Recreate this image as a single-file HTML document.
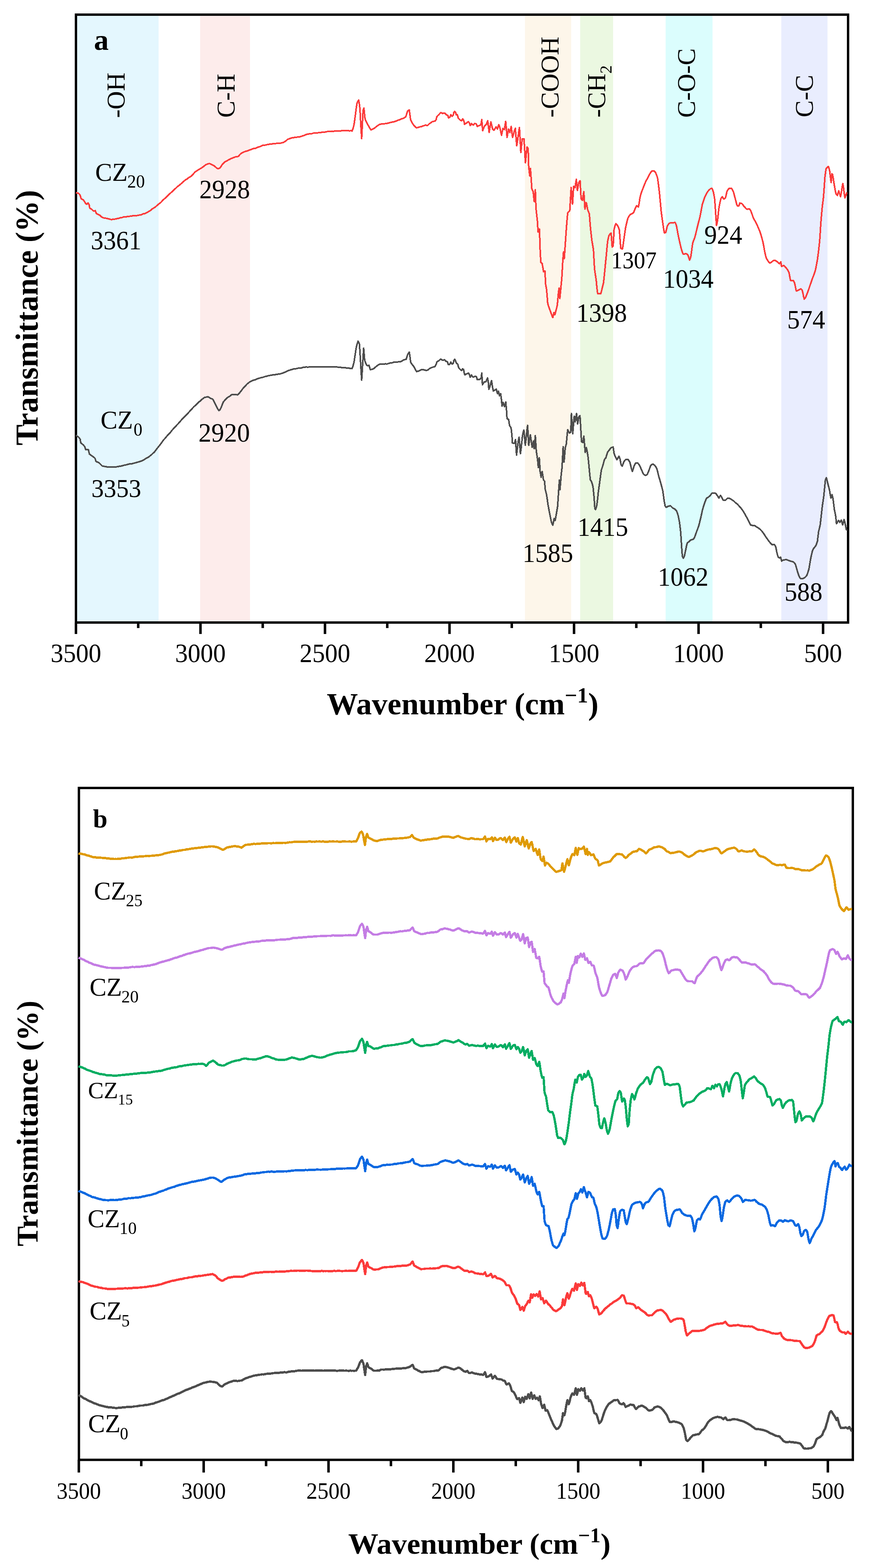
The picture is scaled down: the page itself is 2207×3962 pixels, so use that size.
<!DOCTYPE html>
<html lang="en">
<head>
<meta charset="utf-8">
<title>FTIR spectra</title>
<style>
html,body{margin:0;padding:0;background:#fff}
body{width:2207px;height:3962px;overflow:hidden}
svg{display:block}
text{font-family:"Liberation Serif","Times New Roman",serif;fill:#000}
</style>
</head>
<body>
<svg width="2207" height="3962" viewBox="0 0 2207 3962">
<rect width="2207" height="3962" fill="#fff"/>
<rect x="192" y="37" width="208.9" height="1536" fill="#e4f7fe"/>
<rect x="506" y="37" width="126" height="1536" fill="#fdeceb"/>
<rect x="1327.2" y="37" width="116.8" height="1536" fill="#fdf6ea"/>
<rect x="1466.7" y="37" width="83.3" height="1536" fill="#ebf8e1"/>
<rect x="1682.8" y="37" width="118.5" height="1536" fill="#dbfdfd"/>
<rect x="1975.2" y="37" width="116.8" height="1536" fill="#e9edfe"/>
<rect x="192" y="37" width="1952" height="1536" fill="none" stroke="#000" stroke-width="6"/>
<path d="M192,1573V1602M349.4,1573V1587M506.8,1573V1602M664.2,1573V1587M821.6,1573V1602M979,1573V1587M1136.4,1573V1602M1293.8,1573V1587M1451.2,1573V1602M1608.6,1573V1587M1766,1573V1602M1923.4,1573V1587M2080.8,1573V1602" stroke="#000" stroke-width="6.3" fill="none"/>
<path d="M191.7,486.9L193.9,487.4L196.2,487.8L198.4,488.3L200.5,490.4L202.6,493.4L205,501.8L207,503.2L209,504.4L211,505.5L213.5,509.3L216,513.2L217.7,515L219.3,516.3L220.9,514.5L222.6,512.9L225.2,516.9L226.8,525.2L228.5,526.8L230.3,527.9L232,528.9L234,531L236,533.1L238.5,532.9L241,532.4L243.5,539.5L245.6,540.6L247.7,541.7L249.8,542.6L251.9,543.6L253.9,545.4L255.8,547.3L257.8,548.7L259.9,549.5L262,550.5L263.9,551L265.9,551.2L267.8,551.5L269.7,551.9L271.7,552.4L273.6,552.7L275.6,553.1L277.6,554L279.7,554.5L281.7,554.6L283.7,554.5L285.6,554.3L287.5,553.8L289.4,553.5L291.4,553.5L293.3,553.1L295.2,552.6L297.1,552.2L299,551.8L300.9,551.5L302.8,550.7L304.7,550L306.6,549.7L308.5,549.6L310.4,549.1L312.4,548.3L314.4,547.7L316.4,547.8L318.4,547.9L320.4,547.5L322.5,547.3L324.5,547L326.5,546.6L328.5,546.5L330.5,546.4L332.6,545.9L334.7,545.4L336.8,545.2L338.9,545.2L340.9,545.2L343,545.1L345.1,544.9L347.2,544.5L349.3,544.1L351.4,543.7L353.5,543.2L355.6,542.9L357.7,542.4L359.8,541.4L361.9,540.4L364,540.1L365.9,539.9L367.8,539L369.7,537.7L371.6,536.9L373.5,536L375.4,534.8L377.3,533.7L379.2,532.6L381.2,531.3L383.1,529.4L385.1,527.7L387.1,526.5L389,525.5L390.8,524.3L392.7,523L394.5,521.5L396.3,519.8L398.2,518.2L400,516.7L401.9,515.1L403.9,513.6L405.8,512.1L407.7,510.4L409.6,508.3L411.6,506L413.5,504.1L415.4,502.6L417.4,500.9L419.3,498.9L421.2,497L423.2,495L425.1,493.2L427,491.6L428.9,489.7L430.9,488L432.8,486.3L434.7,484.6L436.7,482.9L438.6,481L440.5,478.8L442.5,477.2L444.4,475.7L446.3,473.7L448.2,471.7L450.2,470.3L452.3,468.8L454.4,467.1L456.4,465.4L458.5,463.7L460.6,461.6L462.7,459.5L464.8,457.9L466.8,456.2L468.9,454.5L470.9,453.4L473,452.3L475,450.5L477.1,448.9L479.1,447.8L481.2,446.7L483.2,445.2L485.3,443.5L487.3,441.4L489.3,439L491.3,436.5L493.3,434.5L495.3,433L497.4,431.7L499.5,430.3L501.6,429L503.7,427.8L505.8,426.6L507.9,425.4L510,424L512.1,422.5L514.1,421.1L516.2,419.5L518.3,417.6L520.4,416.2L522.6,415.3L524.8,414.3L527,413.6L529.2,413.3L531.4,413.9L533.6,414.8L535.8,416L538,417L540.2,418.3L542.4,419.8L544.6,421.8L546.8,423.8L548.4,424.9L550.1,425.9L551.8,426.5L553.7,425.6L555.5,424.8L557.4,422.6L559.3,419.8L561.2,416.8L563.1,414.1L565,412.4L566.8,410.7L568.7,409.1L570.6,407.9L572.6,407.1L574.6,406L576.6,404.6L578.6,403.6L580.6,402.8L582.5,401.6L584.4,400.5L586.3,399.8L588.2,399.2L590,398.4L591.9,397.6L593.8,396.9L595.7,396.3L597.6,396L599.4,395.8L601.3,395.5L603.2,394.8L604.9,392.6L606.6,390.3L608.2,388.7L610.2,387.4L612.2,386L614.2,385L616.3,384.1L618.3,383.4L620.1,382.7L622,382L623.9,381.6L625.8,381.3L627.7,380.5L629.6,379.5L631.4,378.7L633.3,378.4L635.3,377.7L637.2,376.8L639.2,375.9L641.1,375.2L643.1,375L645,374.9L647,374.3L648.9,373.2L650.9,372.4L653,371.7L655.1,371L657.2,370.4L659.2,369.7L661.3,368.7L663.4,367.5L665.5,366.8L667.6,366.7L669.7,366.7L671.8,366.3L673.9,365.7L676,365.3L678.1,365L680.1,364.6L682.2,364.1L684.3,363.6L686.4,363.5L688.5,363.5L690.5,363.4L692.4,363.1L694.4,363.1L696.3,362.9L698.3,362.4L700.2,362.1L702.2,362.3L704.1,362.3L706.1,362.1L708,361.8L709.8,361.5L711.7,361.1L713.6,360.6L715.5,360.1L717.4,359.5L719.6,358L721.8,356.6L723.9,355L726.1,353L728,351.9L729.9,351.2L731.8,350.5L733.7,349.7L735.8,349L737.8,348.4L739.9,348.1L742,347.9L744.1,347.4L746.2,347L748.2,347L750.2,346.7L752.1,346.2L754.1,346L756.1,346.1L758,345.6L760,345L762,344.5L764,343.7L766,342.9L768,342.5L770,341.9L772,340.8L774,339.9L776,339.4L778,339.2L780,338.6L782,338.1L784,337.9L786,337.9L788,337.7L790,337.2L792,336.5L794,336.1L796,336L798,335.8L800,335.5L802,335.7L804,335.5L806,335L808,335L810,335.1L812,334.7L814,333.9L816,333.6L818,333.7L820,333.8L822,333.7L824,333.1L826,332.6L828,332.4L830,332.1L831.9,331.9L833.9,332L835.8,332L837.8,331.8L839.7,331.5L841.7,331.6L843.6,331.7L845.6,331.3L847.5,331.1L849.4,331.4L851.4,331.5L853.3,331.3L855.3,331L857.2,330.9L859.2,330.9L861.1,330.8L863.1,330.4L865,330.3L867,330.3L869.1,330.5L871.1,330.4L873.2,330.3L875.2,330.2L877.3,330.1L879.3,330.1L881.4,330.4L883.4,330.6L885.5,330.5L887.5,330.1L890,331.5L892.5,324.8L895,315.1L896.9,302L898.9,287L900.8,272.1L902.7,260.2L904.7,255.9L906.7,252.9L908.4,262.2L910,275.2L912.1,315.2L914.3,350.5L916,316.5L917.8,279.9L920,273L922.8,300.3L924.6,304.9L926.4,308.3L928.2,311.5L930,315.1L932,318.9L934,322.3L936,325.8L938,328.2L940,327.3L942,326.3L944,325.2L946,324.2L948,322.8L950,321.1L952,319.5L954,318.1L956,316.8L958,315.4L960,314.2L962,313.9L964.1,313.4L966.1,313.1L968.2,313.3L970.2,313.2L972.3,312.7L974.4,312.3L976.4,312.1L978.5,311.7L980.5,311.3L982.4,310.8L984.4,310.3L986.3,309.6L988.2,309.2L990.2,308.9L992.1,308.4L994,308L995.9,307.7L997.9,307.1L999.8,306.3L1001.7,305.8L1003.7,304.9L1005.6,303.9L1007.6,303.3L1009.6,302.8L1011.6,302L1013.6,301.1L1015.6,300.2L1017.6,299.7L1019.6,299L1021.6,297.9L1023.6,296.7L1025.6,295.4L1027.3,290.7L1029,284.8L1030.7,280.2L1032.7,279L1034.7,278L1036.3,289.8L1038,302.9L1039.9,306.7L1041.8,310.1L1043.6,313L1045.5,315.8L1047.4,317.9L1049.2,319.7L1051.1,321.6L1053,323.1L1054.9,322.6L1056.8,321.9L1058.8,321.5L1060.7,320.9L1062.6,320.3L1064.5,320L1066.4,319.5L1068.3,318.7L1070.2,318L1072.2,317.5L1074.1,316.7L1076,316.1L1078,316.7L1080,317.3L1082.1,316L1084.2,313.8L1086.3,312L1088.4,310.8L1090.5,309L1092.5,307.6L1094.4,307.2L1096.2,306.6L1098,306.3L1099.9,306.1L1101.4,304.1L1103,301.2L1104,295.4L1105.8,293.3L1107.5,291.5L1109.3,289.9L1111,288.1L1112.8,286L1114.5,284.4L1116.6,285.3L1118.7,286.6L1120.4,286.4L1122.2,285.9L1123.9,285.6L1125.6,287.2L1127.4,289L1129.1,290.4L1130.7,290.9L1132.3,291.6L1133.9,297.9L1135.7,297.2L1137.5,296L1139.6,290L1141.2,291.6L1142.7,293.7L1144.3,292.9L1145.9,291.2L1147.3,283.9L1149.6,281.4L1152.1,284.7L1153.2,289.8L1154.7,289.9L1156.3,290L1158.4,298.2L1160.5,300.5L1162.6,302.6L1164.7,304.1L1166.8,305.2L1168.3,302.9L1169.9,300.5L1171.5,302.8L1173,306.3L1174.5,314.4L1177.2,312.1L1178.8,311.4L1180.4,310.3L1181.9,308.8L1183.5,307.5L1185.1,308.6L1186.6,310.7L1188.7,317.3L1190.3,314.8L1191.9,312.1L1194.6,315.3L1197.1,315.6L1198.6,313.6L1200.2,311.9L1202.3,312.6L1204.4,313.6L1206.5,319.6L1208.1,318.7L1209.6,318L1211.7,317.3L1213.8,316.6L1215.9,315.4L1218,302.2L1220.2,330.1L1222.3,325.1L1224.4,319.2L1226.1,317.4L1227.9,315.9L1229.6,314L1231.3,309.3L1233,305.1L1234.8,319.8L1236.6,334.6L1238.8,321.4L1241,308.3L1243.2,316.7L1245.3,325.7L1247,327.6L1248.8,329.1L1250.5,326.8L1252.3,323.4L1254,320.7L1255.8,323.2L1257.5,325.8L1259.2,320.5L1261,315.2L1262.8,319.5L1264.5,325.8L1266.2,334.8L1268,341.9L1269.7,333.2L1271.4,324.5L1273.2,325.9L1275,327.5L1276.7,317L1278.4,306.9L1280.2,327.4L1281.9,347.3L1283.7,336.4L1285.4,326.2L1287.2,330.8L1288.9,334.8L1290.6,326.8L1292.3,319.4L1294,333.5L1295.8,347.1L1297.5,341.4L1299.3,334.9L1301,329.1L1302.8,324.3L1304.5,346.1L1306.3,368.1L1308,358.2L1309.8,345.1L1311.5,332.2L1313.2,322.4L1315,354L1316.7,385.4L1318.5,368.2L1320.2,351L1322.5,350.8L1324.7,350.6L1326.5,381.2L1328.2,411.5L1330.3,391.4L1332.4,371.5L1335.2,375.1L1336.6,422L1339.4,444.6L1341,425.5L1342.8,450.8L1344.6,477.8L1346.3,481.5L1348,484.9L1350.5,509.1L1353.3,479.4L1355,526.5L1356.8,542.9L1358.5,558.1L1360.3,586.1L1362,582.4L1363.8,578.6L1365.5,630.9L1367.2,662.6L1369,664.5L1370.7,666.1L1372.5,676.6L1374.2,686.6L1376,685.9L1377.7,685.1L1379.4,718.2L1381.9,732.1L1384.7,766.8L1386.4,772.8L1388.2,777.4L1389.9,782.3L1392.2,788.7L1394.4,794.7L1396,799.1L1397.6,802.4L1400.3,789.7L1402.8,795.1L1405.6,784.3L1407.3,777.9L1409,770.4L1411.8,738.6L1413.6,728.1L1415.3,754.5L1417.8,728.7L1420.2,704.3L1423,655.6L1424.7,636.3L1426.5,653.7L1429.3,613.7L1431.7,578.7L1433.5,556L1435.2,538.1L1436.9,535.9L1438.7,534.6L1440.4,532.2L1442.2,502.6L1443.9,473.9L1445.7,494.5L1447.4,515.6L1450.2,470.9L1452,472.6L1453.7,474.1L1455.3,463.7L1457,453.3L1459.6,481.3L1461.3,472.2L1463,462.1L1464.8,459L1466.5,456.7L1469,502L1470.8,504.5L1472.5,505.9L1474.2,495L1476,484.4L1478.7,528.2L1480.5,520.4L1482.2,512.3L1484,520.3L1485.7,530L1487.8,535.2L1489.9,540.7L1492.7,575.6L1494.5,591.8L1496.2,606.9L1498.2,618.7L1500.3,631.2L1503,679.7L1505.2,694.4L1507.3,708.1L1509,726.8L1510.8,741.6L1512.8,741.5L1514.8,741.8L1516.8,742L1518.8,742.1L1520.5,736.2L1522.3,728.5L1524,721.8L1525.8,714.5L1527.5,698.1L1529.3,679.9L1531,662.6L1532.8,644.9L1534.5,626.3L1536.2,609.7L1538,601.2L1539.7,594.7L1541.5,592.5L1543.2,590.3L1545,589L1547.7,624.2L1550.2,621L1552.6,578.8L1554.8,570.5L1557,565.4L1558.8,567L1560.6,569.2L1562.4,571.8L1564.2,576.3L1565.9,582.1L1567.6,605.7L1569.3,627.5L1571.4,628.7L1573.5,629.4L1575.2,619.4L1577,606.9L1579.2,590.9L1581.5,575.5L1583.5,566.5L1585.5,558.3L1587.5,551L1589.6,547.2L1591.6,544.3L1593.7,542L1595.5,541.1L1597.2,540.2L1599,539.2L1600.7,538.4L1602.5,535.3L1604.2,531.1L1606,526.7L1607.7,522.7L1609.4,519.6L1611.7,521.2L1614,523.1L1616,512.2L1618,498.8L1619.8,492.1L1621.5,486.5L1623.3,481.5L1625.5,476L1627.7,470.4L1629.8,465L1632,459.8L1634.2,455.5L1636.4,451.4L1638.6,447.2L1640.8,443.1L1643.1,438.9L1645.4,435.2L1647.7,432.4L1649.5,431.9L1651.2,431.7L1653,431.7L1655,433.2L1657,435.4L1658.7,439.5L1660.5,444L1662.2,448.9L1663.9,460.4L1665.7,474.8L1667.4,489.7L1669.5,512.2L1671.6,534.7L1673.8,551.2L1676,566.2L1677.8,578.6L1679.6,588.6L1681.3,588.3L1683,587.3L1684.8,580.6L1686.6,572.8L1688.3,569.1L1690.1,566.3L1691.8,564.1L1694,563.5L1696.2,563.2L1698.3,563.3L1700.5,563.3L1702.5,563L1704.4,562.4L1706.4,561.9L1708.2,565.2L1710,569.8L1712.2,581.4L1714.5,594.2L1716.8,604.9L1719.1,615.1L1721.4,625L1723.4,632L1725.4,638.1L1727.4,642.5L1729.5,642.4L1731.5,641.6L1733.6,640.7L1735.4,641.5L1737.1,642.6L1738.9,643.9L1741.2,650.8L1743.4,657.1L1745.2,652.5L1746.9,645.9L1749,630.3L1751,614.8L1752.8,609.6L1754.5,605.2L1756.3,600.9L1758.6,592.1L1760.9,582.4L1763.2,572.8L1765,565.7L1766.7,558.9L1768.5,552.2L1770.2,544.9L1771.9,535.8L1773.7,526L1775.4,517.1L1777.2,511.5L1778.9,506L1780.7,500.8L1782.4,496.3L1784.2,492.8L1785.9,489.4L1787.7,486.6L1789.4,483.8L1791.7,481.1L1794,478.9L1796.3,476.8L1798,476.2L1799.8,475.9L1801.5,479.5L1803.3,484.5L1805,493L1806.8,503.6L1809.2,538.2L1811.3,569.6L1813.8,559L1815.5,543.5L1817.2,527.6L1819,517.7L1820.7,509L1822.5,501.9L1824.2,498.9L1826,497.2L1828,500.2L1830,503L1832,501.9L1834,500.2L1836,491.7L1838,482.9L1839.8,480.2L1841.6,477.8L1843.4,476L1845.4,475.9L1847.3,475.8L1849.3,475.8L1851.5,479.1L1853.8,483.7L1855.5,489.7L1857.3,496.5L1859,503L1860.8,509.6L1862.5,516.3L1864.3,520.6L1866,520.4L1867.8,520.6L1870.2,513.2L1872.5,513.6L1874.7,514L1876.5,515.4L1878.2,517.5L1880,520.2L1881.7,522.5L1883.5,524.1L1885.2,526.1L1887,527.8L1888.7,528.7L1890.4,528.4L1892.2,528.2L1893.9,527.7L1896,529.5L1898,532.5L1900.1,538.1L1902.3,544.4L1904.4,550.4L1906.6,554.5L1908.7,558.2L1910.8,562L1913,566L1915.2,571.2L1917.4,576.4L1919.6,581.6L1921.8,587L1924.1,594.7L1926.4,602.7L1928.7,611.2L1930.5,620.4L1932.2,630.1L1934,639.4L1935.8,647L1937.5,653.1L1939.7,656.4L1941.8,659.6L1944,662.6L1946.2,664.6L1948.5,663.6L1950.7,662L1953,660L1955.1,658.6L1957.3,657.7L1959.4,657.6L1961.4,659.1L1963.3,660.5L1965.3,661.7L1967.1,663.2L1968.8,665.2L1970.6,666.5L1972.3,664.3L1974,661.7L1975.8,673.4L1977.5,672.5L1979.3,671.4L1981,670.7L1983.2,672.3L1985.3,674.6L1987.5,677.2L1989.7,679.6L1991.5,682.7L1993.2,686.1L1995,689.8L1996.7,699.6L1998.4,708.6L2000.2,708.8L2001.9,708.6L2003.7,708.7L2005.4,708.9L2007.2,711.6L2008.9,715.4L2011,725.7L2013,735L2015.3,734.6L2017.6,733.7L2019.3,732.7L2021.1,731.9L2022.8,731L2024.6,730.1L2026.3,731.2L2028,733.3L2029.8,740.6L2031.5,749.3L2033.3,755.9L2035,753.8L2036.8,750.9L2039.1,745.5L2041.4,739.5L2043.7,733.3L2046,726.4L2048.4,719.5L2050.7,712.7L2052.5,707.7L2054.2,702.8L2056,698.4L2058.5,691.8L2061,684.4L2062.8,676L2064.6,666.6L2066.4,656.7L2068.2,643.4L2070,628.8L2072.3,607.6L2075,565.6L2076.8,543.8L2078.6,523.8L2080.3,510.5L2082,496.4L2083.8,471.5L2085.5,447L2088.3,426.4L2090.3,424.1L2092.3,422.1L2094.3,420.6L2096,425.9L2097.7,433.4L2099.4,448.4L2101.2,461.4L2103,439.2L2104.7,440.8L2106.4,450L2108.2,461.5L2109.9,471.9L2111.7,481.8L2113.4,489.7L2115.2,492.2L2116.9,493.6L2118.7,487.7L2120.4,482.3L2122.7,489.6L2125,496.7L2126.9,486.9L2128.9,473.3L2130.8,463.7L2132.5,474.5L2134.3,489.2L2136,500L2138.3,493.8L2140.6,487.5L2142,487.6" fill="none" stroke="#fb3b3b" stroke-width="4.0" stroke-linejoin="round" stroke-linecap="butt" shape-rendering="crispEdges"/>
<path d="M191.7,1100.1L193.9,1101.2L196.2,1102.7L198.4,1104.2L200.5,1106.6L202.6,1110L204.2,1118.8L206.2,1120.9L208.1,1122.1L210.1,1123.8L212.2,1126.1L214.3,1128.6L216.8,1136.1L219,1136.1L221.3,1136.2L223.5,1136.4L226,1147.3L227.9,1148.7L229.8,1150L231.6,1151.4L233.5,1152.7L235.7,1154.4L238,1156.1L240.2,1158.1L242.7,1165.8L244.5,1166.8L246.4,1167.4L248.2,1168.2L250.1,1169.3L251.9,1170.8L254.1,1173.2L256.4,1175.5L258.6,1177.4L260.5,1177.7L262.4,1178.1L264.2,1178.5L266.1,1178.8L268,1179.2L269.9,1179.6L271.7,1179.8L273.6,1179.9L275.5,1179.9L277.4,1180.1L279.3,1180.2L281.3,1180.4L283.2,1180.3L285.1,1180.2L287,1180.4L289.1,1180L291.2,1179.8L293.3,1179.8L295.4,1179.5L297.4,1178.9L299.5,1178.8L301.6,1178.3L303.7,1177.9L305.7,1177.7L307.8,1177.2L309.8,1176.7L311.9,1176.2L313.9,1175.6L316,1175.1L318,1174.8L320.1,1174.3L322.1,1173.6L324.2,1173.1L326.3,1172.6L328.4,1172.1L330.5,1172L332.6,1171.7L334.7,1171.5L336.8,1171L338.9,1170.2L341,1169.7L343.1,1169.2L345.2,1168.6L347.2,1168.1L349.3,1167.4L351.4,1166.9L353.5,1166.3L355.6,1165.5L357.7,1164.8L359.8,1164L361.9,1163L364,1161.8L366,1160.3L368.1,1158.9L370.2,1157.7L372.3,1156.9L374.4,1155.7L376.5,1154.1L378.6,1152.4L380.6,1150.8L382.7,1149.2L384.8,1147.3L386.9,1145.2L389,1143.5L390.8,1141.5L392.7,1139.1L394.5,1136.8L396.3,1134.4L398.2,1131.9L400,1129.7L402.1,1127L404.2,1124.4L406.3,1121.8L408.4,1118.9L410.5,1115.8L412.5,1112.8L414.6,1110.5L416.7,1108.2L418.8,1105.8L420.9,1103.3L423,1100.8L425.1,1098.6L427.2,1096.4L429.3,1094.1L431.4,1091.9L433.5,1089.2L435.5,1086.5L437.6,1084.2L439.7,1082.1L441.8,1079.7L443.9,1077.5L446,1075.3L448.1,1073L450.2,1070.8L452.3,1068.4L454.4,1066.2L456.4,1063.8L458.5,1061.3L460.6,1058.9L462.7,1056.7L464.8,1054.9L466.9,1052.9L469,1050.5L471.1,1048.1L473.2,1046.1L475.3,1044.2L477.3,1041.8L479.3,1039.5L481.3,1037.5L483.3,1035.4L485.3,1033L487.3,1030.8L489.3,1028.5L491.3,1026.6L493.3,1025L495.3,1023.3L497.4,1021.3L499.5,1018.9L501.6,1016.7L503.7,1015.1L505.8,1013.7L507.9,1011.8L509.9,1009.8L511.9,1008.1L513.9,1006.5L515.9,1005.1L517.9,1004L519.8,1003.8L521.7,1003.3L523.6,1002.8L525.4,1002.5L527.1,1003L528.8,1004.2L530.5,1005.5L532.3,1006.5L534.2,1007.2L536.1,1007.8L538,1008.8L539.7,1011.5L541.3,1014.8L543,1018.1L544.7,1021.6L546.3,1025.3L548,1028.9L549.9,1032L551.7,1035.1L553.5,1037.6L555.8,1035.5L558.1,1032L560.1,1027.1L562.2,1021.5L564.3,1016.3L566.4,1013.6L568.5,1011.2L570.6,1008.8L572.5,1007L574.4,1005.3L576.2,1003.9L578.1,1002.6L580.3,1001.4L582.5,999.9L584.7,998.1L586.9,997L589.1,997.3L591.3,997.4L593.5,997.1L595.7,996.9L597.4,997.2L599,997.5L600.7,997.7L602.4,996.4L604,994.6L605.7,992.6L607.6,990.2L609.5,988L611.4,985.5L613.2,982.8L615.1,980.6L617,978.6L618.9,976.4L620.8,974.4L622.7,972.5L624.5,970.5L626.4,969L628.3,967.5L630.2,965.9L632.1,964.7L633.9,964L635.8,963.1L637.7,962L639.6,961L641.5,960.5L643.4,960.1L645.2,959.6L647.1,958.8L649,957.9L650.9,957L652.8,956.3L654.6,955.7L656.5,955.4L658.4,954.7L660.3,954.2L662.2,954L664,953.5L665.9,952.9L667.8,952.2L669.7,951.6L671.6,951.3L673.5,950.8L675.3,950.3L677.2,949.7L679.1,949.3L681,949L682.9,948.5L684.7,948.1L686.6,947.9L688.5,947.5L690.4,947.2L692.3,947L694.2,946.7L696,946.6L698,946.2L699.9,945.7L701.9,945.6L703.8,945.2L705.8,944.6L707.7,944.6L709.7,944.4L711.6,943.6L713.6,943.1L715.7,942.5L717.8,941.5L719.9,940.6L722,939.7L724.1,938.6L726.1,937.5L728,936.7L729.9,936L731.8,935.6L733.7,934.9L735.5,934.2L737.4,933.9L739.3,933.3L741.2,932.5L743.3,932.2L745.4,932.1L747.5,931.8L749.6,931.4L751.6,930.8L753.7,930.4L755.8,930.2L757.9,929.9L760,929.9L762,929.6L764,929L766,928.4L768,927.9L770,927.9L772,927.6L773.9,927.3L775.9,927.5L777.8,927.7L779.8,927.5L781.7,927.3L783.7,927.1L785.6,926.9L787.6,926.8L789.5,926.8L791.4,927L793.4,927.2L795.3,927L797.3,926.8L799.2,926.8L801.2,926.7L803.1,926.5L805.1,926.7L807,927L809,926.8L810.9,926.8L812.9,927L814.9,926.9L816.9,926.8L818.8,926.9L820.8,927.2L822.8,927.3L824.8,927L826.7,926.7L828.7,926.9L830.7,927.2L832.7,927.1L834.6,927.1L836.6,927.2L838.6,927.4L840.6,927.1L842.5,926.9L844.5,926.9L846.5,926.9L848.5,926.8L850.4,926.9L852.4,927.3L854.4,927.9L856.4,928.1L858.4,927.8L860.4,927.8L862.4,928.5L864.4,929L866.4,929.1L868.5,928.9L870.5,928.7L872.5,928.9L874.5,929.5L876.5,929.8L878.5,929.9L880.5,930.1L882.5,930.3L884.4,930.7L886.2,931L888.1,931.2L890,931.4L892.5,924.6L895,915.2L896.7,904.1L898.5,891.8L900.2,880.4L902.7,869.6L905.2,862.2L907,865.2L908.7,869.6L910.2,892.3L911.8,920L914.3,960.7L916.8,920.1L919.3,879.9L921.8,909.8L923.8,915.6L925.8,920.3L927.8,923.5L930.3,923.6L932.8,923.3L934.5,928.8L936.3,934.4L938.5,933.7L940.8,933L943,932.5L944.9,931.4L946.7,930.1L948.5,928.3L950.4,926.5L952.6,924.7L954.9,923.1L957.1,921.8L959.4,920.6L961.3,920.1L963.2,920L965.2,920.1L967.1,919.9L969,919.8L970.9,919.7L972.8,919.6L974.7,919.3L976.7,919.6L978.6,919.7L980.5,919.1L982.4,918.4L984.2,917.9L986.1,917.3L988,917L989.9,916.8L991.8,916.6L993.6,916L995.5,915.2L997.4,915.2L999.4,915.2L1001.3,914.8L1003.3,914.5L1005.2,914.6L1007.2,914.3L1009.1,914.1L1011.1,914.2L1013,914L1014.9,913L1016.8,911.8L1018.7,910.4L1020.6,909.2L1022.6,908.8L1024.7,908.4L1026.7,907.8L1028.7,901.8L1030.7,895.4L1032.7,892.2L1034.7,889.9L1036.5,902.1L1038.2,915.4L1040.1,918.6L1042,921.1L1043.8,923.2L1045.7,925.5L1047.6,929L1049.5,932.6L1051.3,936.1L1053.2,938.7L1055.3,938.4L1057.4,937.9L1059.5,936.9L1061.6,935.9L1063.7,934.9L1065.8,934L1067.9,934L1070,934.3L1072,934.6L1074.1,935.2L1076.2,935.6L1078.3,935.6L1080,935.5L1082.1,934.5L1084.2,932.9L1086.3,931L1088.4,929.8L1090.5,929.1L1092.5,928.3L1094.4,927.6L1096.2,927.2L1098,926.8L1099.9,926L1101.4,923.1L1103,919.5L1104.7,914.2L1107,912.9L1109.3,911.8L1111.4,909.6L1113.5,907.5L1115.2,908L1116.9,909.4L1118.7,910.3L1120.4,910.1L1122.2,909.6L1123.9,909.1L1125.5,910.6L1127,912.6L1129.1,913.5L1131.2,914.2L1133.3,921.5L1134.9,921.2L1136.4,921.2L1138,918.1L1139.6,915L1141.2,917.3L1142.7,919.8L1144.3,919.1L1145.9,917.7L1147.3,911.2L1149.6,907.9L1152.1,913.2L1154.2,917.7L1155.8,919L1157.4,920.5L1159,927.9L1160.8,930.7L1162.6,932.7L1164.7,934.6L1166.8,936.2L1169.5,932.1L1172,933.7L1173.7,943.2L1175.1,947.3L1176.7,946.4L1178.3,945.3L1179.8,944.6L1181.4,943.9L1183,943L1184.5,942.7L1187,947L1188.7,953L1190.3,950.2L1191.9,947.5L1194.6,951.9L1197.1,952.9L1198.6,952.3L1200.2,951L1202.3,951L1204.4,951.7L1206.5,959.3L1208.1,958.9L1209.6,959L1211.7,958.7L1213.8,957.8L1216.3,955.3L1218,942.8L1219.7,971.9L1222,968.5L1224.3,965.1L1226.4,964.8L1228.4,964.5L1230.5,959.9L1232.6,955.2L1234.3,963.6L1235.8,983.7L1237.3,980.3L1238.9,975.5L1240.8,967.7L1242.7,961.7L1245.2,978.6L1247.3,987.8L1249.3,986.7L1251.4,985.5L1253,984.3L1254.6,983.2L1256.1,988.9L1257.7,994.7L1260.2,988.5L1262.9,1000L1265.7,995.1L1267.7,1009.8L1269.2,1026.2L1271.9,1016.8L1273.7,1022.2L1275.5,1027.6L1277.1,1021.7L1278.6,1015.6L1280.7,1038.6L1281.8,1057.8L1283.8,1059L1285.9,1059.7L1288,1074.3L1290.1,1078.1L1292.2,1081.8L1294.3,1101.4L1295.3,1119L1297.1,1119.6L1298.8,1120.2L1300.6,1120.3L1303.3,1110.8L1305.8,1149.8L1308.7,1125.6L1310.5,1113.5L1312.2,1104.6L1314,1125.5L1315.7,1146.2L1317.4,1133.9L1319.2,1116.6L1320.9,1100.9L1322.7,1092.6L1324.4,1086.7L1326.2,1105.8L1327.9,1124.9L1329.9,1110L1331.8,1089.6L1333.8,1074.7L1336.6,1125.1L1338.7,1112L1340.8,1098.8L1343,1114.5L1345.3,1130.3L1347,1122.3L1348.8,1114.4L1350.5,1133.7L1353.3,1101L1355.7,1139.4L1357.5,1151L1359.2,1162.4L1361,1181.6L1363.4,1156.7L1365.5,1191.4L1368,1205.8L1370.7,1191.5L1372.3,1201.8L1373.9,1212.7L1376.7,1215.9L1378.4,1236.6L1380.2,1243.8L1381.9,1250.6L1383.7,1262.6L1385.4,1275.2L1387.7,1287.6L1389.9,1299.1L1392,1309.5L1394,1319.1L1395.8,1323.8L1397.6,1326.9L1399.3,1318.7L1401,1310.1L1403.5,1315.2L1406.3,1299.6L1408,1289.8L1409.8,1278.8L1412.2,1240.8L1414.3,1213.1L1415.7,1237.6L1418.5,1202.3L1420.9,1181.1L1423.7,1128.9L1426,1167.2L1428.9,1132.1L1431.7,1121.7L1433.5,1102.6L1435.2,1085.5L1437.3,1089.9L1439.4,1094.2L1441.2,1093.3L1442.9,1091.9L1444.6,1044.9L1446.3,1070.5L1448,1095.7L1449.8,1073.7L1451.6,1051.9L1454,1065.8L1455.8,1055.3L1457.5,1045L1460.3,1071.3L1462,1061.9L1463.8,1052L1466.2,1050.4L1468.3,1083.7L1470,1115.2L1471.8,1117.3L1473.5,1118.2L1476,1102.3L1477.7,1122.6L1479.4,1143L1482.2,1130.9L1484.3,1140.1L1486.4,1153L1488.2,1169.7L1489.9,1187.8L1492.3,1212.3L1495,1216.1L1497.2,1222.5L1499.3,1230.4L1502,1258L1503.8,1285.8L1505.6,1287.5L1507.3,1282.4L1509,1275.3L1510.8,1260.4L1512.5,1244.3L1514.2,1231.6L1516,1219.2L1518.1,1202.8L1520.2,1188.1L1522.5,1181L1524.7,1174.2L1526.5,1167.1L1528.2,1160.8L1530,1158.8L1531.7,1156.7L1533.8,1149.8L1535.9,1142.6L1538.2,1139.7L1540.4,1137.2L1542.2,1134.4L1543.9,1132L1546,1131L1548.1,1130.1L1550.2,1129.5L1552.6,1146.2L1554.3,1150.8L1556,1154.6L1557.8,1158.5L1559.6,1161.5L1561.3,1158.8L1563.1,1155.3L1564.8,1152.7L1567.6,1160.1L1570,1173.8L1572.8,1178L1574.9,1173L1577,1167.4L1578.7,1164.8L1580.5,1162.4L1582.2,1161.1L1584,1161.1L1585.7,1161.1L1587.5,1161.1L1589.2,1162.9L1591,1165.7L1592.7,1168.9L1594.5,1176.4L1596.2,1184.3L1598.6,1191L1600.5,1185.9L1602.4,1179.2L1604.5,1174.1L1606.6,1170.5L1608.3,1170.1L1610.1,1169.7L1611.8,1169.5L1613.5,1171.4L1615.3,1173.7L1617,1176.1L1618.8,1180L1620.5,1184.2L1622.3,1188L1624,1192.1L1625.8,1195.9L1627.5,1198.7L1629.6,1200.1L1631.7,1201.1L1634,1200.2L1636.2,1198.8L1638.5,1193.9L1640.8,1188.1L1642.9,1181.9L1645,1176.4L1646.7,1174.7L1648.5,1173.6L1650.2,1172.8L1651.9,1173.4L1653.7,1174.6L1655.4,1176.1L1657.1,1178.3L1658.9,1181.2L1660.6,1184.8L1662.4,1191.3L1664.1,1198.5L1665.9,1205.3L1667.6,1210.8L1669.3,1216.8L1671,1222.9L1673.3,1231.1L1675.6,1240.3L1677.3,1252.6L1679,1264.9L1681.5,1278.4L1684.3,1281.8L1686.3,1280.9L1688.2,1279.8L1690.2,1278.9L1692,1278.6L1693.7,1278.2L1695.5,1278.4L1697.2,1280.1L1699,1282L1700.7,1283.6L1702.4,1284.5L1704.2,1285.3L1705.9,1286.3L1708.2,1288.7L1710.5,1291.3L1712.5,1296.5L1714.6,1303.4L1716.3,1311.6L1718,1320.7L1720.9,1345L1723.3,1383.1L1725,1405.7L1727.5,1410.6L1730.3,1404.4L1732,1396.6L1733.8,1388.2L1735.5,1379.7L1737.3,1372.6L1739,1370.7L1740.8,1369.4L1742.5,1367.8L1744.2,1366L1746,1364.8L1747.7,1364L1749.5,1363.5L1751.2,1363.1L1753,1362.5L1755,1359.2L1757,1355L1759.3,1348.2L1761.7,1341.6L1763.4,1337.2L1765.2,1332.2L1766.9,1327.1L1768.6,1320.5L1770.3,1313.4L1772,1306.3L1773.8,1298.1L1775.6,1289.7L1777.3,1283.6L1779.1,1277.8L1780.8,1272.3L1782.5,1267.8L1784.3,1263.3L1786,1259.4L1787.8,1258L1789.5,1257.1L1791.3,1255.8L1793,1254.2L1794.8,1252.9L1796.5,1250.9L1799.3,1246.5L1801,1246.1L1802.8,1246.1L1804.5,1245.8L1806.3,1245.8L1808,1246.2L1809.8,1247.1L1812,1250.3L1814.3,1253.5L1815.8,1256.1L1817.4,1258.6L1819.3,1255.3L1821.3,1251.7L1823,1253.9L1824.7,1257.1L1826.5,1260.9L1828.2,1263.6L1830.1,1263.6L1832.1,1264.1L1834,1264.1L1835.8,1262.3L1837.6,1260.3L1839.4,1258.8L1841.5,1258.8L1843.6,1258.8L1845.6,1259.9L1847.6,1261.1L1849.6,1262.4L1851.6,1263.7L1853.8,1265.1L1855.9,1266.9L1858.1,1269.2L1860.3,1271L1862.5,1272.6L1864.7,1274.4L1866.8,1276.8L1869,1279.3L1871.2,1281.6L1873.3,1284.1L1875.5,1286.9L1877.7,1289.9L1879.5,1292.7L1881.2,1295.5L1883,1298.7L1884.7,1301.9L1887,1305.9L1889.3,1310.1L1891.6,1314.2L1893.3,1317.9L1895.1,1321.9L1896.8,1325L1898.6,1327L1900.8,1327.4L1902.9,1327.8L1905.1,1327.7L1907.3,1327.9L1909.5,1329L1911.7,1330.7L1913.8,1332.2L1916,1333.3L1918.1,1334.9L1920.2,1336.4L1922.3,1338.1L1924.4,1340.3L1926.5,1342.6L1928.6,1345.5L1930.7,1348.4L1932.8,1351.4L1934.9,1354.9L1937,1358.1L1939.1,1360.9L1941.2,1363.8L1943.2,1366.8L1945.3,1369.4L1947.4,1371.7L1949.1,1373.5L1950.9,1375.4L1952.6,1376.6L1954.3,1376.3L1956.1,1375.8L1957.8,1375.9L1959.5,1378.7L1961.3,1382.4L1964,1396.3L1965.8,1402.8L1967.6,1408L1969.3,1409.1L1971,1409.7L1973.5,1408L1976,1417.6L1978.2,1416.2L1980.5,1414.9L1982.7,1414.8L1984.8,1414.3L1987,1414.1L1989.2,1414.3L1991.4,1415.2L1993.6,1416.3L1995.8,1417L1998,1417.7L2000.2,1418.4L2002.3,1418.8L2004.4,1419.6L2006.6,1420.7L2008.7,1422.8L2010.8,1425.6L2013,1433.2L2015.3,1441.5L2017.6,1448.9L2019.9,1455.8L2022,1459.7L2024,1462.2L2025.8,1462.1L2027.5,1462.3L2029.3,1462.3L2031,1461.2L2032.8,1460.1L2034.5,1459.3L2036.2,1457.9L2038,1456.1L2039.7,1453.9L2041.5,1449.1L2043.2,1443.6L2045,1437.9L2047,1426.4L2049,1414.1L2051.3,1402.9L2053.7,1392.9L2055.3,1388.8L2057,1385.7L2058.8,1383.5L2060.6,1381.3L2062.4,1379L2064.5,1373.8L2066.6,1367L2069.3,1344.2L2071.4,1335.3L2073.5,1326.5L2076.3,1302L2079,1277.7L2080.6,1267.3L2082.2,1256.8L2085,1228.9L2086.8,1211.6L2089.2,1207.4L2092,1218.4L2093.7,1225.2L2095.5,1232L2097.2,1239.3L2098.9,1250.1L2100.7,1258.6L2103.5,1249.9L2106,1260.6L2107.7,1274.3L2109.4,1287.9L2111.2,1296.5L2112.9,1305.7L2114.6,1323.1L2116.4,1320.9L2118.1,1317.8L2119.9,1315.2L2121.6,1317.5L2123.3,1319.7L2125.1,1317L2126.8,1314.4L2128.6,1320.3L2130.3,1326.2L2132.1,1319.7L2133.8,1313.1L2135.6,1319.1L2137.3,1326.6L2139.7,1338.4L2142,1338.7" fill="none" stroke="#4d4d4d" stroke-width="4.0" stroke-linejoin="round" stroke-linecap="butt" shape-rendering="crispEdges"/>
<text transform="translate(192 1672.5) scale(1.000 1.060)" font-size="64" text-anchor="middle">3500</text>
<text transform="translate(506.8 1672.5) scale(1.000 1.060)" font-size="64" text-anchor="middle">3000</text>
<text transform="translate(821.6 1672.5) scale(1.000 1.060)" font-size="64" text-anchor="middle">2500</text>
<text transform="translate(1136.4 1672.5) scale(1.000 1.060)" font-size="64" text-anchor="middle">2000</text>
<text transform="translate(1451.2 1672.5) scale(1.000 1.060)" font-size="64" text-anchor="middle">1500</text>
<text transform="translate(1766 1672.5) scale(1.000 1.060)" font-size="64" text-anchor="middle">1000</text>
<text transform="translate(2080.8 1672.5) scale(1.000 1.060)" font-size="64" text-anchor="middle">500</text>
<text transform="translate(237.4 126.4) scale(1.000 0.990)" font-size="74.5" text-anchor="start" font-weight="bold">a</text>
<text transform="translate(314.5 298.1) rotate(-90) scale(1.000 1.025)" font-size="64.5" text-anchor="start">-OH</text>
<text transform="translate(592.9 297.5) rotate(-90) scale(1.000 1.025)" font-size="64.5" text-anchor="start">C-H</text>
<text transform="translate(1412.1 297) rotate(-90) scale(1.000 1.025)" font-size="64.5" text-anchor="start">-COOH</text>
<text transform="translate(1530 297) rotate(-90) scale(1.000 1.025)" font-size="64.5" text-anchor="start">-CH<tspan font-size="42" dx="0.0" dy="16.0">2</tspan></text>
<text transform="translate(1756.7 297.5) rotate(-90) scale(1.000 1.025)" font-size="64.5" text-anchor="start">C-O-C</text>
<text transform="translate(2055 296.5) rotate(-90) scale(1.000 1.025)" font-size="64.5" text-anchor="start">C-C</text>
<text transform="translate(240.7 457) scale(1.000 1.025)" font-size="64" text-anchor="start">CZ<tspan font-size="44.5" dx="-0.7" dy="16.5">20</tspan></text>
<text transform="translate(254.3 1083.4) scale(1.000 1.025)" font-size="64" text-anchor="start">CZ<tspan font-size="44.5" dx="1.7" dy="17.2">0</tspan></text>
<text transform="translate(293.6 630) scale(1.000 1.050)" font-size="64" text-anchor="middle">3361</text>
<text transform="translate(568 501) scale(1.000 1.050)" font-size="64" text-anchor="middle">2928</text>
<text transform="translate(294 1256.3) scale(1.000 1.050)" font-size="63.0" text-anchor="middle">3353</text>
<text transform="translate(566.7 1115.7) scale(1.000 1.050)" font-size="65.0" text-anchor="middle">2920</text>
<text transform="translate(1520.9 813.2) scale(1.000 1.050)" font-size="64" text-anchor="middle">1398</text>
<text transform="translate(1602.4 678) scale(1.000 1.050)" font-size="57.5" text-anchor="middle">1307</text>
<text transform="translate(1740.1 727.4) scale(1.000 1.050)" font-size="64" text-anchor="middle">1034</text>
<text transform="translate(1828.5 615.5) scale(1.000 1.050)" font-size="64" text-anchor="middle">924</text>
<text transform="translate(2038 830) scale(1.000 1.050)" font-size="64" text-anchor="middle">574</text>
<text transform="translate(1385.1 1420.1) scale(1.000 1.050)" font-size="64" text-anchor="middle">1585</text>
<text transform="translate(1524 1354.4) scale(1.000 1.050)" font-size="64" text-anchor="middle">1415</text>
<text transform="translate(1727.1 1479.8) scale(1.000 1.050)" font-size="64" text-anchor="middle">1062</text>
<text transform="translate(2031.2 1517.5) scale(1.000 1.050)" font-size="64" text-anchor="middle">588</text>
<text transform="translate(1169.5 1804.7) scale(1.000 0.980)" font-size="79.0" text-anchor="middle" font-weight="bold">Wavenumber (cm<tspan font-size="55" dy="-30.5">−1</tspan><tspan dy="30.5">)</tspan></text>
<text transform="translate(94.5 802.8) rotate(-90)" font-size="79.5" text-anchor="middle" font-weight="bold">Transmittance (%)</text>
<rect x="199.5" y="1991" width="1956.5" height="1697.7" fill="none" stroke="#000" stroke-width="6"/>
<path d="M199.3,3688.7V3720.7M357.1,3688.7V3704.7M514.9,3688.7V3720.7M672.7,3688.7V3704.7M830.5,3688.7V3720.7M988.3,3688.7V3704.7M1146.1,3688.7V3720.7M1303.9,3688.7V3704.7M1461.7,3688.7V3720.7M1619.5,3688.7V3704.7M1777.3,3688.7V3720.7M1935.1,3688.7V3704.7M2092.9,3688.7V3720.7" stroke="#000" stroke-width="6.3" fill="none"/>
<path d="M198.5,2156.1L200,2156.9L202,2157.1L204,2157.1L206.1,2157.6L208.1,2158.1L210.1,2158.4L212,2158.8L213.9,2159L215.9,2159.6L217.8,2160.5L219.7,2161.3L221.6,2161.7L223.6,2161.9L225.5,2162.5L227.4,2163.4L229.4,2163.8L231.3,2164.5L233.2,2165.4L235.2,2165.9L237.2,2165.9L239.2,2165.8L241.2,2166L243.2,2166.7L245.2,2167L247.2,2167.2L249.2,2167.1L251.2,2166.8L253.2,2166.9L255.2,2167.3L257.2,2167.5L259.2,2167.7L261.2,2168L263.3,2168.2L265.3,2168.1L267.2,2168.3L269.1,2168.7L271.1,2168.9L273,2168.8L274.9,2168.8L276.8,2169.4L278.8,2169.9L280.7,2169.8L282.6,2169.6L284.6,2169.7L286.5,2170.2L288.4,2170.6L290.4,2170.5L292.3,2170.3L294.2,2170.5L296.1,2170.4L298.1,2170.3L300,2170.1L301.9,2170L303.9,2169.9L305.8,2169.6L307.7,2169L309.6,2168.5L311.6,2168.6L313.5,2168.7L315.4,2168.4L317.4,2168L319.5,2167.7L321.5,2167.6L323.5,2167.4L325.5,2167L327.5,2166.6L329.5,2166.5L331.5,2166.7L333.5,2166.9L335.5,2166.7L337.5,2166.1L339.5,2165.5L341.5,2165.1L343.5,2164.8L345.5,2164.9L347.6,2164.9L349.6,2164.6L351.6,2164.4L353.6,2164.2L355.6,2164.1L357.5,2164.1L359.5,2164L361.5,2163.7L363.4,2163.7L365.4,2163.5L367.4,2163.2L369.3,2163.1L371.3,2162.6L373.3,2162.5L375.2,2163L377.2,2163.1L379.1,2162.7L381.1,2162.5L383.1,2162.4L385,2162.3L387,2162.2L389,2162L390.9,2161.8L392.9,2161.5L394.8,2161.2L396.8,2161.1L398.8,2161L400.7,2160.9L402.7,2160.5L404.6,2160L406.5,2159.7L408.5,2159.3L410.4,2158.7L412.3,2158.1L414.2,2157.4L416.2,2156.4L418.1,2155.8L420,2155.7L422,2155.3L423.9,2154.8L425.8,2154.4L427.8,2154.1L429.7,2153.7L431.7,2153.2L433.6,2152.5L435.6,2152.1L437.5,2152.3L439.5,2152.2L441.4,2151.5L443.4,2151L445.3,2150.8L447.3,2150.5L449.2,2150.2L451.2,2149.9L453.1,2149.3L455.1,2149L457,2148.9L459,2148.6L460.9,2148L463,2147.5L465,2147.4L467,2147.5L469,2147.1L471,2146.3L473,2146L475,2145.9L477,2145.6L479,2145.3L481,2145.1L483,2144.6L485,2144.1L487,2143.8L489,2143.7L491.1,2143.5L493.1,2143L495.1,2142.9L497.1,2142.8L499.1,2142.6L501.1,2142.2L503,2142.1L505,2142L506.9,2141.8L508.9,2141.4L510.8,2140.8L512.8,2140.6L514.7,2140.6L516.7,2140.4L518.7,2139.9L520.6,2139.6L522.6,2139.6L524.5,2139.7L526.5,2139.4L528.4,2138.9L530.4,2138.8L532.3,2138.7L534.3,2138.6L536.2,2138.5L538.3,2138.8L540.4,2139.1L542.5,2139.4L544.6,2139.9L546.7,2140.3L548.8,2140.7L550.6,2141.2L552.5,2141.9L554.4,2142.9L556.3,2144.1L558.2,2145L560,2145.7L561.9,2146.8L563.8,2147.6L565.8,2146.5L567.8,2145.3L569.8,2144L571.8,2142.5L573.8,2141.5L575.7,2141.2L577.6,2140.8L579.5,2140.2L581.4,2139.9L583.3,2139.7L585.1,2139.3L587,2139L588.9,2138.6L590.8,2138.3L592.7,2138.1L594.5,2138.1L596.4,2138.4L598.3,2138.7L600.2,2139L602.1,2139.3L603.9,2139.4L606.1,2140.1L608.3,2141.1L610.5,2141.9L612.6,2140.6L614.7,2138.9L616.9,2137.2L619,2135.6L621.1,2134.8L623.1,2134.5L625.2,2134.4L627.2,2134.2L629.3,2134.1L631.3,2133.9L633.4,2133.6L635.4,2133.2L637.5,2132.9L639.5,2132.6L641.6,2132.2L643.6,2132.4L645.6,2132.7L647.6,2132.5L649.6,2132L651.6,2131.8L653.6,2132L655.6,2132.1L657.6,2131.9L659.6,2131.5L661.7,2131.3L663.7,2131.1L665.7,2131.2L667.7,2131.3L669.7,2131L671.7,2130.9L673.7,2131L675.7,2130.8L677.7,2130.5L679.7,2130.4L681.7,2130.4L683.7,2130.7L685.7,2130.8L687.7,2130.6L689.7,2130.3L691.8,2130.3L693.8,2130.5L695.8,2130.4L697.8,2130.2L699.8,2130.4L701.8,2130.3L703.8,2130.2L705.8,2130.3L707.8,2130.1L709.8,2129.9L711.8,2130.1L713.8,2129.9L715.8,2129.5L717.8,2129.5L719.9,2129.7L721.9,2129.9L723.9,2129.6L725.9,2129.2L727.9,2128.9L729.9,2128.6L731.9,2128.3L733.9,2128.4L735.9,2128.5L737.9,2128.1L739.9,2127.5L741.9,2127.4L743.9,2127.3L745.9,2127.1L748,2127.1L750,2127.2L752,2127.2L754,2127.2L756,2127.3L758,2127.3L760,2127.2L762,2127L764,2126.9L766,2126.8L768,2126.8L770,2127L772,2126.9L774,2126.6L776.1,2126.7L778.1,2126.6L780.1,2126.3L782.1,2126.1L784.1,2126.2L786.1,2126.5L788.1,2126.9L790.1,2126.7L792.1,2126.5L794.1,2126.7L796.1,2126.8L798.1,2126.5L800.1,2126.2L802.1,2126.4L804.1,2126.6L806.2,2126.1L808.2,2126.1L810.2,2126.5L812.2,2126.7L814.2,2126.4L816.2,2126.1L818.2,2126.2L820.2,2126.7L822.2,2126.8L824.2,2126.6L826.2,2126.7L828.2,2126.9L830.2,2126.7L832.2,2126.3L834.3,2126.3L836.3,2126.5L838.3,2126.4L840.3,2126L842.3,2126L844.3,2126.3L846.3,2126.6L848.3,2126.5L850.3,2126.4L852.3,2126.3L854.3,2126.4L856.3,2126.7L858.3,2126.8L860.3,2127L862.4,2126.8L864.4,2126.3L866.4,2125.9L868.4,2125.9L870.4,2125.9L872.4,2126.2L874.4,2126.5L876.4,2126.5L878.4,2126.5L880.4,2126.5L882.4,2126.3L884.4,2126.2L886.3,2126.4L888.3,2126.7L890.3,2126.6L892.2,2126.4L894.2,2126.1L896.1,2125.9L898.1,2125.9L900.1,2126.3L901.7,2124.4L903.4,2121.2L905.1,2117.6L906.8,2112.7L908.4,2107.8L910.1,2104.3L912.1,2102.8L914.1,2101.2L916.1,2104.5L918.1,2109.9L920.4,2123.3L922.6,2135L925.2,2115.3L926.7,2110.6L928.2,2107.2L929.7,2111.7L931.2,2116.2L933.4,2117.4L935.5,2118.6L937.7,2119.7L939.8,2120.6L941.9,2121.8L944,2123.1L946.1,2123.8L948.2,2124.3L950.2,2124.9L952.2,2125L954.1,2125.1L956.1,2124.4L958.1,2123.5L960,2123L962,2122.3L963.9,2121.9L965.9,2121.8L967.8,2121.6L969.8,2121.3L971.7,2120.9L973.7,2120.9L975.7,2120.8L977.7,2120.4L979.6,2120.2L981.6,2120L983.6,2119.9L985.5,2119.7L987.5,2119.7L989.5,2119.8L991.5,2119.7L993.4,2119.1L995.4,2119L997.4,2119.1L999.4,2119.2L1001.4,2119.1L1003.4,2118.7L1005.4,2118.5L1007.4,2118.5L1009.5,2118.4L1011.5,2118.1L1013.5,2117.9L1015.5,2117.6L1017.5,2117.6L1019.5,2117.6L1021.5,2117.5L1023.5,2117.3L1025.5,2117L1027.3,2116.7L1029.2,2116.6L1031,2116.2L1032.9,2115.8L1034.7,2115.5L1036.5,2115.1L1038.2,2113.4L1039.9,2111.4L1041.6,2110L1043.6,2113L1045.6,2116.5L1047.5,2117.5L1049.3,2118.5L1051.2,2119.4L1053.1,2120.2L1055.1,2121.1L1057.1,2121.7L1059.1,2122.2L1061.1,2123.1L1063.1,2124L1065.1,2123.8L1067,2123.4L1069,2123.1L1070.9,2123L1072.9,2122.5L1074.8,2122L1076.8,2122.1L1078.8,2121.8L1080.7,2121.1L1082.6,2120.8L1084.6,2120.9L1086.5,2120.8L1088.4,2120.5L1090.4,2120.2L1092.3,2119.9L1094.2,2119.5L1096.1,2119.1L1098.1,2118.9L1100,2119L1101.9,2119.1L1103.9,2118.9L1105.8,2118.5L1107.9,2117.7L1110,2116.8L1112.1,2116.1L1114.2,2115.5L1116.2,2114.9L1118.3,2114.1L1120.4,2114.1L1122.5,2114.2L1124.6,2114.2L1126.7,2114.2L1128.8,2114L1130.9,2114L1132.8,2114.1L1134.6,2114.1L1136.5,2114.5L1138.4,2115.1L1140.3,2115.5L1142.2,2116L1144,2116.6L1145.9,2116.8L1147.8,2116.1L1149.7,2115.4L1151.6,2114.7L1153.5,2114L1155.1,2113.1L1156.8,2112.6L1158.5,2112.4L1160.4,2113.3L1162.2,2114.3L1164.1,2115.4L1166,2116.3L1168,2116.5L1170,2117.1L1172,2117.8L1174,2118.1L1176,2118.7L1178,2119.3L1180.1,2119.5L1182.1,2119.7L1184.1,2120.2L1186.1,2120.4L1188.1,2119.4L1190.1,2118.1L1192.1,2117.5L1193.9,2118.4L1195.7,2118.9L1197.5,2119.1L1199.3,2119.9L1201.1,2120.6L1203.1,2120.5L1205.1,2120.2L1207.1,2119.9L1209.2,2120L1211.2,2120.5L1213.2,2120.7L1215.2,2120.6L1217.2,2120.5L1219.2,2120.4L1221.2,2120.4L1222.9,2118.6L1224.5,2115.7L1226.2,2113.6L1228,2119.8L1229.7,2126.2L1231.7,2122.9L1233.7,2119.4L1235.9,2119.7L1238.1,2119.9L1240.3,2120L1242,2117.8L1243.8,2115.9L1246.3,2125.3L1248,2122.8L1249.6,2119.3L1251.3,2116.7L1253.3,2119.7L1255.3,2122.6L1257.3,2122.2L1259.3,2121.6L1261.3,2120.3L1263,2118.9L1264.7,2118.1L1266.4,2117.9L1268,2119.5L1269.7,2121.3L1271.4,2122.6L1273,2120.6L1274.7,2118.1L1276.4,2116.5L1278.1,2122.3L1279.9,2127.7L1281.9,2124.2L1283.9,2120.1L1285.9,2116.8L1287.9,2114.4L1289.7,2121.9L1291.4,2129.1L1293.1,2126.4L1294.8,2123.1L1296.5,2120.2L1298.1,2118.4L1299.8,2116.8L1301.5,2116L1303.5,2121.3L1305.5,2126.7L1307.2,2122.4L1309,2117.8L1310.8,2123.7L1312.5,2130.5L1314.5,2132.7L1316.5,2133.9L1318.2,2128.2L1319.9,2120.6L1321.5,2114.9L1323.2,2121.8L1324.9,2131.5L1326.6,2138.8L1328.2,2134.1L1329.9,2127.5L1331.6,2122.8L1333.3,2128.9L1334.9,2137.3L1336.6,2143.8L1338.3,2140L1339.9,2134.4L1341.6,2129.5L1344.1,2127.9L1345.8,2134.6L1347.5,2143.6L1349.1,2150.3L1350.8,2148.6L1352.5,2146.3L1354.2,2144.9L1355.8,2149.4L1357.5,2155.5L1359.2,2160L1361.2,2153.2L1363.2,2146.4L1364.9,2158L1366.7,2170.2L1368.7,2173.2L1370.7,2175.5L1372.5,2170L1374.2,2164.4L1376,2175.8L1377.7,2186.8L1379.7,2183.2L1381.8,2180L1383.4,2180.9L1385.1,2182L1386.8,2183.2L1388.4,2185.2L1390.1,2187.4L1391.8,2189.6L1393.7,2191.4L1395.6,2192.9L1397.4,2194.8L1399.3,2197L1401.5,2199.4L1403.7,2201.5L1405.8,2202.9L1407.8,2202.5L1409.9,2202L1411.9,2201.5L1413.7,2200.7L1415.6,2200.2L1417.5,2199.5L1419.4,2198L1421.9,2181.4L1423.9,2192.3L1425.9,2202.9L1427.7,2197.3L1429.4,2190.5L1431.1,2183.6L1432.8,2176.2L1434.4,2171.1L1436.2,2179L1438,2186.6L1440,2179.5L1442,2171L1443.6,2166L1445.3,2161.5L1447,2158.2L1448.7,2158.6L1450.3,2159.8L1452,2160.7L1453.8,2151.5L1455.5,2142.4L1457.5,2151.1L1459.5,2160.2L1461.3,2151.8L1463,2143L1465,2144.2L1467.1,2145.4L1468.7,2145L1470.4,2144.8L1472.1,2144.2L1474.1,2141.4L1476.1,2139.1L1478.3,2148.6L1480.6,2157.9L1482.3,2151.6L1484,2145L1486,2160.1L1487.5,2156.9L1489,2153.3L1490.7,2155.2L1492.4,2158.4L1494,2160.7L1496.1,2160.3L1498.1,2159.6L1500.1,2158.9L1501.7,2161.9L1503.4,2166.3L1505.1,2169.8L1507.1,2171.3L1509.1,2172.7L1511.1,2174.5L1512.6,2180.9L1514.1,2186.8L1516.3,2186L1518.4,2184.6L1520.5,2183.2L1522.6,2181.8L1524.5,2181L1526.4,2180.5L1528.3,2180L1530.2,2179.4L1532.3,2179L1534.4,2178.7L1536.4,2178.1L1538.5,2177.7L1540.6,2177.2L1542.7,2176.5L1544.6,2174.2L1546.5,2171.6L1548.4,2168.9L1550.2,2166.4L1552.3,2164.6L1554.3,2162.8L1556.3,2160.7L1558.3,2158.7L1560.3,2157.5L1562.4,2157.8L1564.5,2158L1566.6,2158.3L1568.6,2158.5L1570.7,2158.8L1572.8,2159.3L1574.6,2160.9L1576.4,2163.1L1578.2,2165.2L1580.1,2166.8L1581.9,2167.8L1584,2166.2L1586.1,2164.1L1588.3,2161.7L1590.4,2159.4L1592.4,2158.3L1594.4,2157L1596.4,2155.3L1598.4,2153.7L1600.4,2152.4L1602.4,2151.9L1604.4,2151.6L1606.4,2151.3L1608.4,2151.2L1610.5,2150.7L1612.1,2148.7L1613.8,2146.7L1615.5,2145.2L1617.5,2145.6L1619.5,2146.6L1621.5,2147.7L1623.5,2148.8L1625.5,2149.8L1627.4,2151.2L1629.3,2153L1631.2,2154.7L1633,2156.1L1634.9,2154.8L1636.8,2152.5L1638.7,2149.7L1640.6,2147.5L1642.7,2146.5L1644.7,2145.6L1646.8,2144.8L1648.9,2143.8L1651,2142.5L1653.1,2141.3L1655.2,2140.7L1657.3,2140.6L1659.4,2140.5L1661.5,2139.9L1663.6,2139.2L1665.6,2138.8L1667.7,2139.3L1669.7,2140L1671.7,2140.5L1673.7,2141.1L1675.7,2142.1L1677.7,2143.5L1679.7,2144.7L1681.7,2146.6L1683.7,2149L1685.7,2150.9L1687.5,2151.7L1689.3,2152.3L1691.1,2153.3L1692.9,2154.6L1694.8,2155.6L1696.6,2155.6L1698.4,2155.1L1700.3,2154.9L1702.1,2154.8L1704,2154.5L1705.8,2154.3L1707.6,2153.6L1709.5,2153.1L1711.3,2153L1713.1,2152.4L1715,2151.6L1716.8,2151.4L1718.6,2152.2L1720.4,2152.7L1722.2,2153.5L1724.1,2154.5L1725.9,2155.4L1727.7,2156.9L1729.6,2158.6L1731.5,2160.3L1733.4,2161.3L1735.3,2162.4L1737.2,2163.8L1739,2164.6L1740.9,2165.2L1742.9,2164.8L1744.9,2163.9L1746.9,2162.7L1748.9,2161.8L1750.9,2160.8L1753,2159.3L1755,2157.8L1757,2156L1759,2154.1L1761,2152.8L1763,2152.1L1765,2151.1L1767,2150.3L1769,2149.7L1771,2149.4L1773,2150.1L1775,2150.8L1777,2151.3L1778.8,2150.9L1780.7,2150.4L1782.5,2149.6L1784.3,2148.6L1786.1,2147.8L1788,2147.5L1789.8,2147L1791.7,2146.4L1793.6,2146.2L1795.5,2146L1797.4,2145.7L1799.2,2145.2L1801.1,2144.8L1803.1,2144.2L1805.1,2143.4L1807.1,2143.1L1809.2,2143.3L1811.2,2143.3L1813.2,2143.9L1815.2,2145L1817.2,2146.5L1819.4,2150L1821.5,2153.8L1823.7,2156.4L1825.6,2155.4L1827.5,2153.9L1829.3,2152.5L1831.2,2151.4L1833.1,2150.1L1835,2148.4L1836.9,2147.1L1838.8,2146.1L1840.8,2145.4L1842.8,2144.8L1844.8,2144.4L1846.8,2143.9L1848.8,2143.4L1850.7,2142.9L1852.6,2142.5L1854.4,2142.2L1856.3,2142L1858.3,2142.9L1860.3,2144.2L1862.3,2145.6L1864,2147.7L1865.7,2150L1867.4,2151.6L1869.5,2151L1871.7,2150.1L1873.9,2149.2L1875.8,2149.3L1877.6,2149.9L1879.5,2150.7L1881.4,2151.3L1883.4,2151.5L1885.3,2151.6L1887.3,2151.7L1889.2,2151.9L1891.2,2151.7L1893.1,2151.4L1895.1,2151.2L1897,2151.3L1899,2151.5L1900.8,2150.9L1902.7,2149.6L1904.6,2147.7L1906.5,2146.4L1908.2,2147.6L1909.8,2149.4L1911.5,2151.4L1913.2,2153.8L1914.9,2156.3L1916.5,2158.8L1918.5,2160.7L1920.5,2162.4L1922.5,2163.6L1924.4,2163.9L1926.2,2164.2L1928,2164.8L1929.8,2165.3L1931.6,2165.8L1933.6,2167L1935.6,2168.4L1937.6,2169.7L1939.6,2171.2L1941.6,2172.7L1943.7,2174.3L1945.8,2175.9L1947.9,2177.6L1950,2179.5L1952.1,2181.1L1954.2,2182.2L1956.2,2182.7L1958.2,2183.7L1960.2,2184.9L1962.2,2185.6L1964.2,2186L1966.2,2185.9L1968.2,2185.9L1970.2,2185.6L1972.2,2185.3L1974.2,2185.6L1976.2,2185.8L1978.2,2185.7L1980.3,2185.2L1982.3,2184.7L1984.3,2184.6L1986,2188.2L1987.8,2192.2L1990,2193.1L1992.1,2193.3L1994.3,2193.5L1996.2,2193.6L1998.1,2193.4L1999.9,2193L2001.8,2192.9L2003.7,2193.3L2005.6,2193.8L2007.5,2194.7L2009.4,2195.6L2011.4,2195.6L2013.4,2195.6L2015.4,2195.8L2017.4,2196.1L2019.4,2196.3L2021.3,2196.8L2023.2,2197.5L2025,2198.5L2026.9,2199.2L2028.9,2199.3L2030.9,2198.9L2032.9,2198.9L2034.9,2199.3L2036.9,2199.5L2039,2199.5L2041,2199.3L2043,2199.4L2045,2199.7L2047,2199.6L2048.9,2198.9L2050.7,2198.1L2052.6,2197.4L2054.5,2196.6L2056.4,2195.1L2058.3,2193.8L2060.2,2192.5L2062,2190.8L2063.9,2189.2L2065.8,2187.9L2067.7,2186.8L2069.6,2185.7L2071.4,2184.7L2073.3,2183.8L2075.2,2183L2077.1,2181.8L2078.8,2179.3L2080.4,2176.2L2082.1,2172.7L2084.1,2168.5L2086.1,2164.5L2088.1,2161.7L2090.3,2162.5L2092.5,2164L2094.7,2165.9L2096.4,2170.3L2098.2,2175.4L2100.2,2182.5L2102.2,2190.5L2104.2,2199.5L2106.2,2208.5L2107.9,2216.6L2109.7,2225.4L2112.2,2245.5L2114.2,2253.7L2116.2,2260.9L2118,2268L2119.7,2275.7L2122.2,2288.3L2123.9,2291.2L2125.6,2293.7L2127.3,2296.2L2129.4,2298.5L2131.6,2300.7L2133.8,2302L2135.8,2299.1L2137.8,2295.4L2139.8,2292.7L2141.5,2294.2L2143.2,2296.7L2144.8,2298.7L2146.7,2298.3L2148.6,2297.7L2150.5,2297.4L2152.4,2297.1L2154,2297.4" fill="none" stroke="#df9a05" stroke-width="5.8" stroke-linejoin="round" stroke-linecap="butt" shape-rendering="crispEdges"/>
<path d="M198.5,2420L200,2420.6L201.9,2421.2L203.8,2421.7L205.7,2422.7L207.6,2423.6L209.4,2424.3L211.3,2424.9L213.2,2426L215.1,2427.2L217.1,2428.2L219.1,2429.1L221.1,2430L223.1,2430.9L225.1,2432.1L227.1,2432.9L229.1,2433.4L231.1,2434.4L233.2,2435.7L235.2,2436.5L237.2,2437.2L239.2,2437.8L241.2,2438.1L243.2,2438.5L245.2,2439L247.2,2439.5L249.2,2440.1L251.2,2440.6L253.2,2441.3L255.2,2442L257.2,2442.2L259.2,2442.5L261.2,2443L263.3,2443.5L265.3,2443.9L267.3,2444.4L269.3,2444.9L271.3,2445.3L273.3,2445.4L275.3,2445.5L277.2,2445.5L279.2,2445.4L281.1,2445.6L283,2445.7L284.9,2445.7L286.9,2445.7L288.8,2446L290.7,2445.8L292.7,2445.7L294.6,2446.1L296.5,2446.3L298.5,2446.4L300.4,2446.3L302.4,2446L304.4,2445.9L306.4,2445.8L308.4,2445.5L310.4,2445.5L312.4,2445.6L314.4,2445.3L316.4,2445.1L318.4,2445.2L320.5,2445.1L322.5,2444.9L324.5,2444.8L326.5,2444.5L328.5,2444.2L330.5,2443.9L332.5,2443.5L334.5,2443.3L336.5,2443.3L338.5,2443.6L340.5,2443.7L342.5,2443.4L344.5,2442.9L346.5,2442.6L348.6,2442.8L350.6,2443L352.6,2442.8L354.6,2442.6L356.6,2442.3L358.6,2442.2L360.6,2442L362.5,2441.7L364.5,2441.3L366.4,2441.1L368.3,2441.1L370.2,2440.9L372.2,2440.3L374.1,2440L376,2440.1L378,2440L379.9,2439.3L381.8,2438.6L383.8,2438.3L385.7,2438.2L387.6,2437.5L389.5,2436.8L391.5,2436.6L393.4,2436.3L395.3,2435.4L397.3,2434.5L399.2,2434.1L401.1,2433.4L403.1,2432.4L405,2431.8L406.9,2431.4L408.8,2430.8L410.8,2430.1L412.8,2429.7L414.8,2429.3L416.8,2428.6L418.8,2428.2L420.8,2427.6L422.8,2426.8L424.8,2426.3L426.8,2426.1L428.8,2425.4L430.8,2424.4L432.8,2423.8L434.9,2423.3L436.9,2422.5L438.9,2421.6L440.9,2420.8L442.9,2420.3L444.9,2420.1L446.9,2419.6L448.9,2418.7L450.9,2418L452.9,2417.3L454.9,2416.3L456.9,2415.9L458.9,2415.6L460.9,2414.9L463,2413.6L465,2413L467,2412.7L469,2411.9L471,2411L473,2410.4L475,2409.8L477,2409.4L479,2409.2L481,2408.7L483,2408L485,2407.5L487,2406.9L489,2406.3L491.1,2405.5L493.1,2405L495.1,2404.7L497.1,2404.2L499.1,2403.7L501.1,2403.1L503,2402.7L504.9,2402.1L506.9,2401.3L508.8,2400.7L510.7,2400.5L512.7,2400.3L514.6,2399.6L516.5,2398.6L518.5,2397.9L520.4,2397.6L522.3,2397.1L524.2,2396.5L526.2,2395.9L528.3,2395.6L530.4,2395.4L532.4,2395.4L534.5,2395.3L536.6,2394.8L538.7,2394.3L540.7,2394.8L542.7,2395.2L544.7,2395.4L546.7,2395.7L548.8,2396L550.7,2396.7L552.6,2397.5L554.5,2398L556.4,2398.7L558.4,2399.3L560.3,2399.7L562.1,2399.2L564,2398.2L565.8,2396.9L567.7,2395.9L569.5,2395.2L571.3,2394.6L573.2,2394L575.1,2393.2L577,2393L578.9,2392.8L580.7,2392.3L582.6,2391.8L584.5,2391.2L586.4,2390.9L588.4,2390.5L590.4,2389.8L592.4,2389.2L594.4,2388.9L596.4,2388.4L598.4,2387.8L600.4,2387.3L602.4,2386.9L604.5,2386.5L606.5,2386.1L608.5,2385.9L610.5,2385.5L612.5,2384.7L614.5,2384.3L616.5,2384.3L618.5,2383.9L620.5,2383.3L622.5,2382.7L624.5,2382.3L626.5,2381.8L628.5,2381.5L630.4,2381.1L632.3,2380.8L634.2,2380.8L636.2,2380.4L638.1,2380.1L640,2379.9L642,2379.7L643.9,2379.6L645.8,2379.4L647.8,2379.1L649.7,2379L651.6,2379.2L653.6,2379.1L655.6,2378.7L657.6,2378.3L659.6,2377.7L661.7,2377.4L663.7,2377.1L665.7,2376.7L667.7,2376.8L669.7,2377L671.7,2376.6L673.6,2376L675.5,2375.8L677.5,2375.9L679.4,2375.7L681.3,2375.6L683.3,2375.6L685.2,2375.7L687.1,2375.7L689.1,2375.7L691,2375.7L692.9,2375.7L694.8,2375.6L696.8,2375.3L698.8,2375L700.8,2374.8L702.8,2374.5L704.8,2374.5L706.8,2374.5L708.8,2374.1L710.8,2373.9L712.8,2374.1L714.8,2374.2L716.8,2373.7L718.9,2373.6L720.9,2373.9L722.9,2373.6L724.9,2373.3L726.9,2373.1L728.8,2373L730.6,2373L732.5,2372.6L734.4,2372L736.3,2371.6L738.2,2371L740.1,2370.1L741.9,2369.7L743.9,2369.9L745.8,2370L747.7,2370L749.7,2370L751.6,2369.8L753.5,2369.3L755.4,2368.9L757.4,2369L759.3,2369L761.2,2369.1L763.2,2369.1L765.1,2368.5L767,2367.8L768.9,2367.7L770.9,2367.9L772.8,2367.8L774.7,2367.7L776.7,2367.5L778.6,2367.1L780.5,2366.9L782.5,2366.7L784.4,2366.6L786.3,2366.9L788.2,2367L790.2,2366.8L792.1,2366.4L794,2366L796,2366.2L797.9,2366.3L799.8,2365.9L801.8,2365.6L803.7,2365.5L805.6,2365.4L807.5,2365.4L809.5,2365.4L811.4,2365.1L813.3,2365.1L815.3,2365.3L817.2,2365.3L819.1,2365L821.1,2365L823,2365.1L824.9,2364.9L826.8,2364.5L828.8,2364.4L830.7,2364.5L832.6,2364.5L834.6,2364.6L836.5,2364.6L838.4,2364.2L840.4,2363.5L842.3,2363.3L844.2,2363.6L846.1,2363.8L848.1,2363.8L850,2364L851.9,2364L853.9,2364L855.8,2364L857.7,2364L859.7,2363.9L861.6,2363.8L863.5,2363.9L865.4,2363.9L867.4,2363.7L869.3,2363.5L871.1,2363.4L873,2363.4L874.9,2363.3L876.8,2363.5L878.7,2363.5L880.5,2363.1L882.4,2363.2L884.4,2363.4L886.3,2363.2L888.3,2363.4L890.3,2363.6L892.2,2363.3L894.2,2363.1L896.1,2363.3L898.1,2363.5L900.1,2363.2L901.7,2361.1L903.4,2358.4L905.1,2355.1L906.8,2350.3L908.4,2345.2L910.1,2340.4L911.8,2337.8L913.5,2335.8L915.1,2334.4L917.1,2337.5L919.1,2342.5L921.1,2357.5L923.2,2370.5L925.2,2352.5L926.7,2346.1L928.2,2341.8L929.7,2347.1L931.2,2352.8L933.4,2354.1L935.5,2355.2L937.7,2356.6L939.6,2358.2L941.5,2359.8L943.3,2360.9L945.2,2361.4L947.2,2361.4L949.2,2361.5L951.2,2361.5L953.3,2361.6L955.3,2361.2L957.4,2360.4L959.4,2359.8L961.5,2359L963.6,2358.3L965.7,2357.9L967.8,2357.4L969.8,2357L971.8,2356.7L973.8,2356.7L975.8,2357L977.8,2357.3L979.8,2357.1L981.9,2356.7L983.9,2356.4L985.9,2356.6L987.9,2356.9L989.8,2356.9L991.8,2356.6L993.7,2356.3L995.7,2356.1L997.6,2355.8L999.6,2355.4L1001.5,2355.1L1003.5,2354.7L1005.4,2354.5L1007.4,2354.1L1009.5,2353.5L1011.5,2353.3L1013.5,2353.4L1015.5,2353.5L1017.5,2353.2L1019.5,2352.7L1021.5,2352.4L1023.5,2352.3L1025.5,2352.3L1027.3,2352.1L1029.2,2351.5L1031,2350.9L1032.9,2350.7L1034.7,2350.7L1036.5,2350.5L1038.7,2348L1040.9,2345.4L1043.1,2343.6L1045.1,2348.1L1047.1,2352.9L1049.2,2353.9L1051.3,2354.8L1053.5,2355.6L1055.6,2356.4L1057.4,2357.4L1059.2,2358.3L1061,2358.9L1062.8,2359.7L1064.6,2360.5L1066.7,2360.4L1068.7,2360L1070.7,2359.6L1072.7,2359.4L1074.7,2359.1L1076.7,2358.4L1078.7,2357.6L1080.7,2357.3L1082.6,2357.5L1084.6,2357.4L1086.5,2356.8L1088.4,2356.3L1090.4,2356.1L1092.3,2356L1094.2,2355.8L1096.1,2355.7L1098.1,2355.6L1100,2355.3L1101.9,2355L1103.9,2354.7L1105.8,2354.3L1107.7,2353.1L1109.6,2351.6L1111.4,2350.1L1113.3,2348.8L1115.2,2348.3L1117.2,2348.1L1119.1,2347.7L1121,2346.9L1122.9,2346.2L1124.9,2346.1L1126.7,2346.4L1128.5,2346.7L1130.4,2346.9L1132.2,2347.4L1134.1,2348.1L1135.9,2348.4L1137.9,2348.7L1139.9,2349.6L1141.9,2350.4L1143.9,2350.9L1145.9,2351.4L1147.8,2350.9L1149.7,2349.9L1151.6,2348.9L1153.5,2348L1155.3,2347L1157.1,2346.2L1159,2345.6L1160.7,2346.3L1162.5,2347.2L1164.2,2348.3L1166,2349.6L1168,2350.6L1170,2351.5L1172,2352.3L1174,2353L1176,2353.4L1177.7,2353.1L1179.4,2353L1181.1,2353.1L1182.7,2354.3L1184.4,2355.6L1186.1,2356.3L1188,2355.5L1189.8,2354.8L1191.7,2354.4L1193.6,2354.1L1195.5,2354.5L1197.4,2355.1L1199.2,2356L1201.1,2356.9L1203.1,2357.2L1205.1,2357.3L1207.1,2357.3L1209.2,2357.4L1211.2,2357.7L1213.2,2357.9L1215.2,2358L1217.2,2358.4L1219.2,2358.8L1221.2,2358.8L1222.9,2357.1L1224.5,2354.6L1226.2,2352.4L1228,2357.7L1229.7,2363.5L1231.7,2361L1233.7,2358L1235.9,2358.4L1238.1,2359.2L1240.3,2359.5L1241.8,2356.7L1243.3,2354.2L1244.8,2359.6L1246.3,2364.5L1248,2361.4L1249.6,2357.9L1251.3,2355.4L1253.3,2358.2L1255.3,2361.1L1257.3,2361L1259.3,2360.9L1261.3,2360.7L1263,2359.6L1264.7,2358.4L1266.4,2357.9L1268,2358.9L1269.7,2360.1L1271.4,2361.4L1273,2360.2L1274.7,2358.1L1276.4,2356.4L1277.9,2362.2L1279.4,2367.8L1281.7,2364.3L1283.9,2360.2L1285.9,2357.2L1287.9,2354.6L1289.7,2361.8L1291.4,2369.4L1293.1,2367.3L1294.8,2364.2L1296.5,2361.4L1298.1,2359.8L1299.8,2358.5L1301.5,2357.6L1303.5,2363.4L1305.5,2369L1307.2,2364.3L1309,2359.9L1310.8,2364.6L1312.5,2370.3L1314,2374.2L1315.5,2377.2L1317.3,2375.2L1319,2372.5L1320.8,2366.1L1322.5,2360.4L1324.6,2372.1L1326.6,2383.7L1328.3,2376.9L1330.1,2370.1L1332.1,2369.6L1334.1,2369L1335.8,2380.9L1337.6,2393L1339.6,2386.9L1341.6,2380.7L1344.1,2379.8L1345.9,2392.4L1347.6,2405.3L1349.6,2401.8L1351.7,2398.1L1353.7,2409.2L1355.7,2420.4L1357.4,2420.8L1359.2,2421.2L1361.2,2419.4L1363.2,2417.7L1364.9,2428.4L1366.7,2440.8L1368.7,2449L1370.7,2455.1L1372.5,2454.8L1374.2,2454.6L1376.7,2483.6L1378.4,2486.6L1380.1,2488.6L1381.8,2490.9L1383.4,2492.6L1385.1,2493.8L1386.8,2495.5L1388.8,2502.5L1390.8,2510.7L1392.5,2516L1394.3,2520.6L1396,2523.9L1397.6,2527.1L1399.3,2529.8L1401,2531.8L1402.7,2533.4L1404.3,2534.5L1406.3,2536L1408.3,2537.6L1410,2537.6L1411.7,2536.9L1413.4,2535.9L1415.6,2534.3L1417.9,2532.3L1419.9,2527.5L1421.9,2521.7L1424.4,2510.9L1426.9,2522L1429.4,2505.9L1431.2,2496.9L1432.9,2488.3L1434.4,2481.6L1435.9,2476.6L1438,2483.4L1439.5,2475.6L1441,2465.4L1442.7,2457.1L1444.5,2449.9L1447,2441L1448.7,2439.1L1450.3,2437.6L1452,2435.5L1453.8,2426L1455.5,2417.6L1458,2432.7L1459.5,2424.1L1461,2415.6L1462.8,2417.3L1464.5,2419.3L1466.3,2414.7L1468.1,2409.8L1470.1,2413.9L1472.1,2417.8L1474.1,2413.4L1476.1,2409.1L1477.8,2417.1L1479.6,2425.1L1480,2425.3L1482,2423.5L1484,2421.3L1485.8,2427.1L1487.5,2433L1489.2,2432.1L1490.9,2430.9L1492.5,2430.3L1494.3,2434.9L1496.1,2439.2L1497.7,2439.3L1499.4,2439.7L1501.1,2440.1L1503.1,2448.2L1505.1,2457.8L1506.8,2462.2L1508.4,2466.1L1510.1,2470.7L1512.1,2482.1L1514.1,2493.4L1515.9,2499.8L1517.6,2505.7L1519.3,2509.7L1521,2513.6L1522.6,2516.4L1524.8,2516L1527,2515.4L1529.2,2514.8L1531.2,2512.8L1533.2,2510.2L1535.2,2507L1536.9,2502.1L1538.5,2496.5L1540.2,2490.6L1541.9,2484.7L1543.6,2478.8L1545.2,2473.2L1546.9,2469.4L1548.6,2466.1L1550.2,2463.3L1551.9,2462.4L1553.6,2461.5L1555.3,2460.6L1557.3,2466L1559.3,2471.3L1561,2464.8L1562.8,2457.8L1564.5,2455.3L1566.1,2452.6L1567.8,2450.3L1570,2450.9L1572.2,2452.1L1574.3,2453L1576.6,2457.4L1578.8,2463.2L1580.4,2469.5L1581.9,2475.1L1584.1,2471.8L1586.4,2466.9L1588.5,2461.4L1590.7,2456.1L1592.9,2451.7L1594.8,2449.3L1596.7,2446.8L1598.5,2444.9L1600.4,2443.4L1602.4,2442.4L1604.4,2441.7L1606.4,2441.6L1608.4,2441.4L1610.5,2440.8L1612.3,2439.3L1614.2,2437.3L1616.1,2435.5L1618,2434.4L1620.1,2434.2L1622.2,2433.9L1624.4,2433.7L1626.5,2433.8L1628.7,2431.4L1630.9,2427.8L1633,2424.6L1635,2422.6L1637,2420.7L1639.1,2418.8L1641.1,2416.7L1643.1,2414.5L1645.1,2412.1L1647.1,2410.3L1649.1,2408.9L1651.1,2407.3L1653.1,2405.4L1655,2403.8L1656.9,2402.6L1658.8,2402.1L1660.6,2401.9L1662.5,2401.6L1664.4,2401.4L1666.3,2401.7L1668.2,2401.7L1670.3,2402.8L1672.5,2405.1L1674.7,2408.2L1676.4,2412.4L1678,2417.2L1679.7,2422.8L1681.4,2429.7L1683,2436.6L1684.7,2443L1686.7,2449.4L1688.7,2455.1L1690.7,2459L1692.6,2457.5L1694.5,2455.3L1696.4,2453.1L1698.3,2451.8L1700.3,2451.6L1702.3,2451.2L1704.3,2450.6L1706.3,2450.1L1708.3,2449.9L1710.3,2449.9L1712.3,2449.9L1714.3,2450.4L1716.3,2450.7L1718.3,2450.5L1720,2452.6L1721.7,2455.6L1723.4,2458.4L1725.5,2461.9L1727.7,2465.6L1729.9,2469.4L1731.6,2472L1733.4,2474.6L1735.1,2476.6L1736.9,2478.2L1739.1,2479L1741.2,2479.4L1743.4,2479.5L1745.6,2479.5L1747.8,2479.5L1749.9,2479.5L1752,2481.2L1754,2483.3L1756,2484.4L1758,2479.8L1760,2473.7L1762,2468.2L1764,2466L1766,2464.2L1768,2462.2L1770,2460.6L1772.1,2458.2L1774.3,2455.3L1776.4,2452.5L1778.5,2449.7L1780.7,2446.3L1782.8,2442.7L1784.9,2439.5L1787.1,2436.6L1789.1,2433.8L1791.1,2430.8L1793.1,2428.1L1795.1,2425.7L1797.2,2423.9L1799.4,2422L1801.5,2420.5L1803.6,2419.6L1805.5,2419.1L1807.4,2418.4L1809.3,2418.4L1811.2,2418.6L1812.8,2420.1L1814.5,2421.9L1816.2,2424.3L1818.2,2431.9L1820.2,2440.3L1821.9,2446.6L1823.7,2451.4L1825.4,2448.1L1827,2443.1L1828.7,2438.1L1830.4,2434L1832.1,2429.9L1833.7,2426.6L1835.4,2425.7L1837.1,2424.7L1838.8,2424.2L1840.4,2425.2L1842.1,2425.8L1843.8,2426.1L1845.9,2424.3L1848.1,2421.7L1850.3,2419.5L1852.3,2418.9L1854.3,2418.4L1856.3,2418.3L1858.2,2418.7L1860.1,2418.6L1862,2418.9L1863.8,2419.5L1866,2421.5L1868.2,2424L1870.4,2426.4L1872.4,2428.6L1874.4,2430.9L1876.4,2432.6L1878.3,2432.3L1880.2,2431.8L1882,2431.6L1883.9,2431.7L1885.8,2432.3L1887.7,2433.1L1889.6,2433.7L1891.4,2434.1L1893.2,2434.5L1895.1,2435.3L1896.9,2436.1L1898.7,2436.6L1900.5,2437L1902.2,2437L1904,2436.8L1905.7,2436.6L1907.5,2436.3L1909.5,2437.3L1911.5,2439L1913.5,2440.9L1915.5,2442.7L1917.7,2444.5L1919.8,2446.6L1921.9,2448.4L1924.1,2449.9L1925.9,2451.2L1927.8,2452.4L1929.7,2453.7L1931.6,2455.6L1933.5,2457.8L1935.3,2460L1937.2,2462.5L1939.1,2464.8L1940.8,2467.9L1942.5,2471.5L1944.1,2474.6L1946.3,2477.6L1948.5,2480.4L1950.6,2482.9L1952.8,2484.4L1954.9,2485.6L1957,2486.2L1959.2,2486.3L1961.2,2486L1963.2,2485.9L1965.2,2485.7L1967.2,2485.5L1969.2,2485.6L1971.2,2485.8L1973.2,2485.9L1975.2,2486.4L1977.2,2486.9L1979.2,2487.1L1981.1,2487.4L1983,2488L1984.9,2488.7L1986.8,2489.5L1988.8,2489.9L1990.8,2490.3L1992.8,2490.4L1994.8,2490.4L1996.8,2490.4L1998.7,2491.1L2000.6,2492.3L2002.5,2493.7L2004.3,2494.7L2006.5,2497.3L2008.7,2500.7L2010.9,2503.4L2013,2503.8L2015.1,2504L2017.3,2504.6L2019.4,2505.6L2021.6,2507.8L2023.7,2510.4L2025.9,2512.5L2027.9,2512.4L2029.9,2512L2031.9,2512.1L2033.8,2512.3L2035.7,2512.1L2037.6,2512.4L2039.5,2513.1L2041.6,2515.6L2043.8,2518.8L2046,2521L2048.1,2519.9L2050.2,2518.3L2052.4,2516.5L2054.5,2514.9L2056.5,2513.1L2058.5,2511.1L2060.5,2508.8L2062.5,2506.3L2064.5,2504.2L2066.7,2502.2L2068.8,2500.2L2070.9,2498.1L2073.1,2495.9L2074.7,2492.3L2076.4,2487.9L2078.1,2483.3L2079.8,2477.8L2081.4,2472L2083.1,2465.8L2085.1,2456.7L2087.1,2447.7L2089.1,2439.2L2091.1,2430.2L2092.9,2421.2L2094.7,2412.5L2096.4,2405.9L2098.2,2401L2100.3,2399.9L2102.5,2399L2104.7,2398.2L2106.4,2398.7L2108,2399.5L2109.7,2401.1L2111.7,2406.2L2113.7,2410.4L2115.5,2407.6L2117.2,2405.1L2118.9,2408.1L2120.6,2412L2122.2,2415.8L2124.3,2419L2126.3,2421.7L2128.3,2424.1L2130.1,2423.5L2131.9,2422.4L2133.8,2421.7L2135.5,2422L2137.1,2422.2L2138.8,2422.9L2141.1,2418.6L2143.3,2413.9L2145.3,2417.6L2147.3,2421.9L2149.3,2424L2151.3,2425.4L2154,2425.5" fill="none" stroke="#c47de4" stroke-width="5.8" stroke-linejoin="round" stroke-linecap="butt" shape-rendering="crispEdges"/>
<path d="M198.5,2694L200,2694.9L202.1,2695.4L204.2,2696L206.3,2696.7L208.4,2697.6L210.5,2698.7L212.6,2699.6L214.5,2700.2L216.5,2701.2L218.4,2702.4L220.4,2703.3L222.3,2704L224.3,2704.5L226.2,2705.2L228.2,2706L230.1,2706.6L232.1,2707.4L234.2,2708.4L236.2,2709L238.2,2709.4L240.2,2710.2L242.2,2710.9L244.2,2711.2L246.2,2711.8L248.2,2712.4L250.2,2713.2L252.2,2713.8L254.2,2714.1L256.2,2714.2L258.2,2714.5L260.2,2714.8L262.3,2714.8L264.3,2715.2L266.3,2716L268.3,2716.6L270.3,2716.8L272.3,2717L274.3,2717L276.3,2716.8L278.3,2716.9L280.3,2717.2L282.3,2717.4L284.3,2717.6L286.3,2717.7L288.3,2717.7L290.4,2718L292.3,2717.8L294.2,2717.8L296.1,2717.8L298.1,2717.4L300,2717.3L301.9,2717.1L303.9,2716.7L305.8,2716.6L307.7,2716.5L309.6,2716.1L311.6,2715.9L313.5,2715.8L315.4,2715.8L317.4,2715.5L319.5,2714.8L321.5,2714.7L323.5,2714.9L325.5,2714.8L327.5,2714.4L329.5,2714.1L331.5,2714L333.5,2713.9L335.5,2713.7L337.5,2713.3L339.5,2713.3L341.5,2713.4L343.5,2713.2L345.5,2712.8L347.5,2712.3L349.4,2712.1L351.4,2712L353.3,2711.7L355.3,2711.4L357.3,2711.1L359.2,2711L361.2,2711.2L363.1,2711.1L365.1,2710.9L367,2710.6L369,2710.6L370.9,2710.6L372.9,2710.3L374.8,2710.3L376.8,2710.3L378.7,2710L380.7,2709.6L382.6,2709.2L384.5,2708.9L386.5,2708.4L388.4,2708L390.3,2707.8L392.2,2707.5L394.2,2707.2L396.1,2707.1L398,2707.1L400,2706.6L401.9,2706L403.8,2706L405.8,2705.9L407.8,2705.5L409.8,2705.1L411.8,2704.3L413.8,2703.5L415.8,2703L417.8,2702.6L419.8,2702L421.8,2701.3L423.8,2700.7L425.8,2700.4L427.8,2700.3L429.8,2699.8L431.8,2699L433.9,2698.3L435.9,2698.1L437.9,2697.8L439.9,2697.2L441.9,2696.8L443.9,2696.6L445.9,2696.6L447.9,2696.2L449.9,2695.4L451.9,2694.8L453.9,2694.3L455.9,2694.1L457.9,2694.1L459.9,2693.7L462,2693.2L464,2692.6L466,2692.2L467.9,2692.3L469.8,2691.9L471.8,2691.4L473.7,2691.3L475.6,2691L477.5,2690.6L479.5,2690.3L481.4,2690.2L483.3,2690.1L485.3,2689.8L487.2,2689.2L489.1,2689.1L491.1,2689.3L493.1,2689.3L495.1,2689.2L497.1,2688.9L499.1,2688.6L501.1,2688.3L503.1,2688.3L505.1,2688.5L507.1,2688.3L509.1,2688L511.1,2688L512.8,2688.3L514.5,2688.6L516.1,2689.2L517.8,2690.6L519.5,2692.3L521.2,2693.4L523,2691.8L524.9,2689.3L526.8,2686.9L528.7,2685L530.7,2683.8L532.7,2683L534.7,2682.1L536.7,2680.9L538.7,2680.1L540.4,2681.1L542.1,2682.2L543.7,2683L545.9,2685L548.1,2687.2L550.3,2689.2L552.2,2690.3L554.1,2691L556.1,2691.1L558,2691.5L559.9,2692.3L561.9,2692.5L563.8,2692.5L565.8,2692L567.8,2691.6L569.8,2690.6L571.8,2689.2L573.8,2688.1L575.9,2687.4L578,2686.4L580.1,2685.4L582.2,2684.8L584.3,2683.7L586.4,2682.7L588.3,2682.4L590.2,2681.9L592,2681.2L593.9,2680.9L595.8,2680.4L597.7,2679.8L599.6,2679.5L601.4,2679.4L603.4,2679.2L605.3,2678.7L607.3,2678L609.2,2677.2L611.2,2676.2L613.1,2675.5L615.1,2675.4L617.1,2675.2L619,2674.5L621.1,2674.5L623.2,2675L625.3,2675.6L627.4,2676L629.5,2676.4L631.5,2676.6L633.4,2676.5L635.3,2676.4L637.2,2676.5L639.1,2676.9L641,2676.8L642.8,2676.7L644.7,2676.8L646.6,2677L648.5,2676.6L650.4,2675.8L652.2,2675.2L654.1,2674.6L656,2674.2L657.9,2674L659.8,2673.5L661.7,2672.7L663.7,2671.9L665.8,2671.1L667.9,2670.6L670,2669.9L672.1,2668.9L674.2,2668.4L676.3,2669.1L678.4,2669.8L680.5,2670.4L682.6,2671.1L684.6,2672.2L686.7,2673.1L688.6,2673.6L690.5,2674.1L692.4,2674.7L694.3,2675.5L696.1,2676.4L698,2677.1L699.9,2677.3L701.8,2677.6L703.7,2677.9L705.6,2678.3L707.4,2678.4L709.3,2678.2L711.2,2677.9L713.1,2677.8L715,2678L716.8,2678.2L718.9,2678L721,2677.6L723.1,2677.2L725.2,2676.6L727.3,2676L729.4,2675.2L731.2,2674.3L733,2673.9L734.8,2673.3L736.6,2672.4L738.4,2672L740.6,2672.6L742.7,2673L744.8,2673.4L746.9,2674.2L749,2674.9L751,2675.3L753,2676L755,2676.8L757,2677.3L759,2677.1L761,2676.7L763,2676.1L765,2675.9L767,2676.2L769.1,2675.4L771.2,2674.1L773.3,2673.2L775.4,2672.5L777.5,2671.5L779.6,2670.5L781.6,2669.9L783.6,2669.1L785.6,2668.5L787.6,2668.2L789.6,2668L791.6,2668.4L793.6,2668.9L795.6,2669.6L797.6,2670.3L799.6,2670.6L801.6,2671.1L803.6,2671.5L805.7,2671.6L807.7,2672L809.7,2672.6L811.8,2672.4L813.9,2672L815.9,2671.6L818,2671.1L820.1,2670.5L822.2,2669.8L824.1,2668.8L826,2667.7L827.9,2667L829.7,2666.5L831.6,2666L833.5,2665.2L835.4,2664.5L837.3,2664.1L839.1,2663.8L841,2663.4L842.9,2662.6L844.8,2661.7L846.7,2661.3L848.6,2661.2L850.4,2660.6L852.3,2660.1L854.3,2660.3L856.3,2660L858.3,2659.5L860.3,2659.4L862.4,2659.2L864.4,2659L866.4,2658.9L868.4,2658.6L870.4,2658.5L872.4,2658.5L874.4,2658.4L876.4,2658.2L878.4,2657.8L880.4,2657.1L882.4,2656.5L884.4,2656.5L886.3,2656.6L888.3,2656.5L890.3,2656.2L892.2,2656L894.2,2655.7L896.1,2655L898.1,2654.2L900.1,2653.7L901.7,2651.5L903.4,2648.6L905.1,2645.4L906.8,2640.8L908.4,2635.7L910.1,2631.1L911.8,2629L913.5,2626.7L915.1,2624.9L917.1,2628.5L919.1,2634L921.1,2648.3L923.2,2660.5L925.2,2642.6L926.7,2636.5L928.2,2632.5L929.7,2637.7L931.2,2642.8L933.4,2643.4L935.5,2644L937.7,2645.1L939.6,2646.6L941.5,2648L943.3,2649L945.2,2649.8L947.2,2649.8L949.2,2649.4L951.2,2649L953.3,2649.1L955.3,2649.1L957.4,2648L959.4,2647.2L961.5,2646.7L963.6,2646L965.7,2644.9L967.8,2643.8L969.8,2643.3L971.8,2642.8L973.8,2642.6L975.8,2642.8L977.8,2642.5L979.8,2642L981.9,2641.8L983.9,2641.6L985.9,2641.5L987.9,2641.3L989.8,2641L991.8,2640.6L993.7,2640.5L995.7,2640.6L997.6,2640.3L999.6,2639.7L1001.5,2639.1L1003.5,2638.9L1005.4,2638.9L1007.4,2638.4L1009.5,2637.7L1011.5,2637.4L1013.5,2637.4L1015.5,2637.2L1017.5,2636.7L1019.5,2636L1021.5,2635.5L1023.5,2635.2L1025.5,2635.1L1027.5,2634.8L1029.5,2634.1L1031.5,2633.5L1033.5,2632.9L1035.5,2631.8L1037.4,2629.9L1039.3,2628L1041.2,2626.7L1043.1,2626L1044.7,2628.7L1046.4,2632.3L1048.1,2635.3L1050,2636.5L1051.9,2637.6L1053.7,2638.5L1055.6,2639.7L1057.4,2640.5L1059.2,2641.2L1061,2642.1L1062.8,2642.7L1064.6,2643.3L1066.7,2643.3L1068.7,2643.1L1070.7,2642.5L1072.7,2641.9L1074.7,2641.6L1076.7,2641.5L1078.7,2641.3L1080.7,2641.2L1082.6,2641.1L1084.6,2641L1086.5,2640.9L1088.4,2640.8L1090.4,2640.6L1092.3,2640.3L1094.2,2640L1096.1,2639.4L1098.1,2638.8L1100,2638.5L1101.9,2638.4L1103.9,2638.3L1105.8,2637.9L1107.7,2636.8L1109.6,2635.4L1111.4,2633.9L1113.3,2632.8L1115.2,2631.9L1117.2,2631.1L1119.1,2630.7L1121,2630L1122.9,2629.1L1124.9,2628.8L1126.7,2629.2L1128.5,2629.5L1130.4,2629.7L1132.2,2630.1L1134.1,2630.5L1135.9,2630.8L1137.9,2631.6L1139.9,2632.3L1141.9,2632.7L1143.9,2633.4L1145.9,2634L1147.8,2633.5L1149.7,2632.9L1151.6,2631.9L1153.5,2631.2L1155.3,2630.6L1157.1,2629.4L1159,2628.2L1160.7,2629.1L1162.5,2630.4L1164.2,2631.8L1166,2632.9L1168,2633.7L1170,2634.9L1172,2636.4L1174,2637.7L1176,2639L1177.7,2638.8L1179.4,2638.1L1181.1,2637.7L1182.7,2639L1184.4,2641L1186.1,2642.2L1188,2641.7L1189.8,2641.4L1191.7,2640.8L1193.6,2640.3L1195.5,2641.1L1197.4,2641.6L1199.2,2641.8L1201.1,2642.4L1203.1,2642.7L1205.1,2642.6L1207.1,2642.2L1209.2,2642.3L1211.2,2642.9L1213.2,2643L1215.2,2642.7L1217.2,2642.8L1219.2,2643.1L1221.2,2643.1L1222.9,2641.1L1224.5,2638.7L1226.2,2636.9L1228,2642.8L1229.7,2648.6L1231.7,2645.4L1233.7,2642.4L1235.9,2643.3L1238.1,2644.3L1240.3,2644.5L1241.8,2641.3L1243.3,2638.3L1244.8,2643.5L1246.3,2648.7L1248,2645.9L1249.6,2642L1251.3,2639.2L1253.3,2642.1L1255.3,2645.2L1257.3,2645.2L1259.3,2644.7L1261.3,2643.7L1263,2642.5L1264.7,2641.5L1266.4,2640.6L1268,2641.9L1269.7,2644.1L1271.4,2645.8L1273,2643.8L1274.7,2640.9L1276.4,2639L1277.9,2644.6L1279.4,2649.9L1281.7,2646.6L1283.9,2642.7L1285.9,2638.9L1287.9,2635.8L1289.7,2643.3L1291.4,2650.5L1293.1,2648.1L1294.8,2645.1L1296.5,2642.4L1298.1,2641.4L1299.8,2640.7L1301.5,2640.4L1303.5,2646L1305.5,2651.1L1307.2,2648.1L1309,2645.7L1310.8,2647.8L1312.5,2650.3L1314,2655.7L1315.5,2660.1L1317.3,2657.8L1319,2655.2L1320.8,2650.1L1322.5,2645.6L1324.6,2656.1L1326.6,2666.6L1328.3,2661.6L1330.1,2655.7L1332.1,2653.1L1334.1,2651.2L1335.8,2661.8L1337.6,2672.8L1339.6,2667.2L1341.6,2660.2L1344.1,2655.5L1345.9,2666.7L1347.6,2677.8L1349.6,2675.8L1351.7,2673.5L1353.7,2680.6L1355.7,2688.6L1357.4,2691.6L1359.2,2693.6L1361.2,2688.4L1363.2,2683.1L1364.9,2692.9L1366.7,2705.5L1368.7,2715.5L1370.7,2722.9L1372.5,2722.4L1374.2,2721.7L1376.7,2761L1378.5,2766L1380.3,2770.4L1381.8,2780L1383.3,2790.4L1385.8,2805.4L1387.4,2807.1L1389.1,2808.9L1390.8,2810L1392.5,2809.8L1394.1,2809.4L1395.8,2809.5L1397.8,2813.3L1399.8,2818.2L1401.3,2825.1L1402.8,2832.9L1404.3,2841.5L1405.8,2850.7L1408.3,2868.5L1410.9,2875.2L1412.9,2875.3L1414.9,2875.1L1416.9,2875.1L1418.9,2876.5L1420.9,2878.4L1422.9,2880.4L1424.9,2886.1L1426.9,2891.5L1428.9,2887.4L1430.9,2881.4L1432.7,2872L1434.4,2861.2L1436.2,2848.8L1438,2836.1L1439.5,2823.8L1441,2811.3L1442.7,2798.8L1444.5,2786.2L1447,2765.9L1448.7,2758.1L1450.5,2750.5L1452.5,2738L1454.5,2728.2L1456.3,2731.9L1458,2735.5L1459.5,2728.7L1461,2721.2L1462.8,2718.5L1464.5,2716.3L1466.3,2715.6L1468.1,2715.5L1469.6,2721.8L1471.1,2727.9L1473.1,2725.4L1475.1,2721.9L1477.1,2713.4L1478.8,2717L1480.6,2720.8L1482.3,2719.1L1484,2716.6L1485.5,2710.9L1487,2706.2L1489,2712.6L1491,2719.6L1493,2722.4L1495.1,2725.2L1497.1,2735.3L1499.1,2747.9L1500.8,2762L1502.6,2776.2L1505.1,2793.6L1506.8,2794.3L1508.4,2795L1510.1,2796L1512.6,2815.9L1515.1,2840.7L1516.9,2846.1L1518.6,2850L1520.1,2850.5L1521.6,2850.7L1524.2,2838.2L1525.9,2831.3L1527.7,2826L1529.4,2831.4L1531.2,2838.7L1532.7,2847.5L1534.2,2856.1L1535.7,2861.1L1537.2,2864.8L1539.2,2860.3L1541.2,2853.8L1543.2,2842.8L1545.2,2830.9L1547.2,2820.5L1549.2,2810.6L1551,2802L1552.8,2793.5L1554.5,2786.6L1556.3,2780.9L1558.3,2779.1L1560.3,2777.2L1562.8,2763.5L1564.5,2759.5L1566.3,2757L1567.8,2758.4L1569.3,2760.6L1571.1,2772.4L1572.8,2783.3L1574.8,2779.6L1576.8,2775.8L1579.3,2778.4L1581.9,2796L1584.4,2825.9L1586.9,2846L1589.4,2841L1591.4,2810.6L1592.9,2794.2L1594.4,2780.3L1596.2,2771L1597.9,2764.4L1600.4,2768.1L1602.2,2773.6L1603.9,2778.1L1605.9,2771.6L1607.9,2763.4L1609.6,2758.4L1611.3,2753.6L1613,2749.6L1615.1,2746.5L1617.3,2743.4L1619.5,2740.6L1621.5,2739L1623.5,2737.5L1625.5,2735.8L1627.2,2733.4L1628.9,2730.6L1630.5,2728.1L1632.2,2726L1633.9,2723.6L1635.5,2721.7L1637.3,2723.1L1639.1,2725.3L1641.1,2732.5L1643.1,2739.1L1644.8,2736.9L1646.6,2733.3L1648.6,2724.4L1650.6,2715.5L1652.3,2711.1L1653.9,2706.5L1655.6,2702.5L1657.3,2700.3L1659,2698.2L1660.6,2696.6L1662.3,2696.4L1664,2696.2L1665.6,2695.9L1667.3,2697L1669,2698.2L1670.7,2699.7L1672.7,2703.4L1674.7,2707.7L1676.4,2717.2L1678.2,2728.4L1680.7,2741.2L1682.4,2740.3L1684,2739.2L1685.7,2738.5L1687.6,2739.1L1689.5,2739.8L1691.4,2740.8L1693.2,2741.8L1695.3,2741.8L1697.4,2741.4L1699.5,2740.7L1701.6,2740.1L1703.7,2739.9L1705.8,2739.8L1707.6,2739.6L1709.4,2739.1L1711.2,2739L1713,2739.1L1714.8,2738.9L1716.6,2741.5L1718.3,2745.8L1720.8,2765.8L1723.4,2785.6L1725.1,2791.7L1726.9,2795.7L1728.9,2794L1730.9,2791.7L1732.6,2789.6L1734.2,2787.5L1735.9,2785.9L1737.8,2785.7L1739.7,2785.5L1741.5,2785.3L1743.4,2785.1L1745.4,2784.5L1747.4,2783.8L1749.4,2782.8L1751.5,2781.6L1753.5,2780.8L1755.3,2778.5L1757.2,2775.7L1759.1,2773L1761,2770.4L1762.9,2768.5L1764.7,2766.7L1766.6,2764.9L1768.5,2763.3L1770.4,2762L1772.3,2760.7L1774.2,2759.4L1776,2758.3L1777.9,2757.7L1779.8,2756.9L1781.7,2755.8L1783.6,2754.7L1785.2,2753L1786.9,2751.1L1788.6,2749.5L1790.3,2749.6L1791.9,2750.3L1793.6,2750.9L1795.4,2751.6L1797.1,2752.1L1799.1,2747.9L1801.1,2743.5L1803.1,2746.6L1805.1,2749.7L1806.9,2745.2L1808.7,2740.8L1810.4,2743L1812.2,2745.1L1813.7,2742.6L1815.2,2739.9L1816.9,2739.6L1818.7,2739.3L1820.4,2742.3L1822.2,2746.6L1823.7,2751.8L1825.2,2757.7L1827.7,2770.5L1829.5,2761.6L1831.2,2750.5L1832.7,2744.1L1834.2,2738.4L1835.7,2735.8L1837.3,2734.3L1838.8,2739.6L1840.3,2745.9L1841.8,2752.3L1843.3,2757.8L1844.8,2750.2L1846.3,2740.5L1848.3,2732.1L1850.3,2725L1852,2721.5L1853.6,2718.2L1855.3,2715.6L1857,2713.9L1858.7,2712.2L1860.3,2711.3L1862,2711.5L1863.7,2711.7L1865.3,2712.1L1867.6,2715.2L1869.9,2719.6L1871.4,2725.7L1872.9,2733.1L1875.4,2756.1L1877.9,2775.1L1880.4,2760.5L1882.9,2742.6L1885.2,2738.3L1887.4,2735.1L1889.6,2732.7L1891.8,2730.3L1893.9,2727.7L1895.8,2726.3L1897.7,2725.4L1899.6,2724.6L1901.5,2723.3L1903.1,2722L1904.8,2721L1906.5,2720.2L1908.5,2721.7L1910.5,2724.1L1912.2,2726.8L1913.9,2729.4L1915.5,2731.8L1917.5,2733.4L1919.5,2734.8L1921.5,2736.5L1923.4,2738L1925.3,2738.9L1927.2,2739.9L1929.1,2741.5L1930.7,2743.8L1932.4,2746.4L1934.1,2749.3L1935.8,2754.6L1937.6,2760.7L1939.1,2766.6L1940.6,2771.1L1942.6,2771.2L1944.6,2771.6L1946.6,2772L1948.4,2776.7L1950.1,2783L1951.7,2788.9L1953.2,2793.6L1955.4,2791.2L1957.7,2788.1L1959.3,2785.2L1961,2782.4L1962.7,2779.8L1964.7,2778.7L1966.7,2778.1L1968.7,2777.5L1970.7,2777L1972.5,2778.8L1974.2,2781.2L1976.7,2793.6L1979.2,2799.5L1981.3,2795.3L1983.3,2790.7L1985.5,2787.8L1987.8,2785L1990,2783.4L1992.1,2781.7L1994.3,2780.4L1996.2,2780.3L1998.1,2780.1L1999.9,2779.9L2001.8,2779.3L2003.6,2781.1L2005.3,2784.4L2007.8,2810.4L2009.4,2824.8L2010.9,2835.7L2013.4,2833.2L2015.1,2824.9L2016.9,2816.1L2018.9,2811.5L2020.9,2808.3L2022.6,2811.4L2024.4,2816.1L2026.9,2831.1L2028.6,2829.4L2030.3,2827.3L2031.9,2825.5L2033.9,2823.8L2035.9,2822.1L2038,2821L2039.8,2821.3L2041.6,2821.4L2043.4,2821.3L2045.2,2821L2047,2820.9L2048.7,2821.9L2050.3,2823.1L2052,2824.6L2054,2829.2L2056,2833.4L2057.8,2829.9L2059.5,2825L2061.2,2820.1L2062.9,2815.4L2064.5,2811.1L2066.4,2807.7L2068.3,2804.6L2070.2,2801.6L2072.1,2798.6L2074.1,2795.1L2076.1,2791.5L2078.1,2786.9L2079.6,2777.1L2081.1,2765.6L2082.9,2751.2L2084.6,2736L2086.4,2718.3L2088.1,2700.7L2089.6,2685.5L2091.1,2670.3L2092.9,2655.1L2094.7,2640.3L2097.2,2615.2L2099.2,2603.1L2101.2,2593L2102.9,2586L2104.7,2580.1L2106.9,2578.2L2109,2576.6L2111.2,2575.1L2113.2,2573.2L2115.2,2571.2L2117.2,2570L2119,2575L2120.7,2580L2122.6,2580.7L2124.4,2581.5L2126.3,2582.8L2128.5,2586.4L2130.8,2589.2L2132.8,2585.3L2134.8,2581.4L2136.5,2581.7L2138.1,2582.3L2139.8,2582.8L2141.5,2581.4L2143.2,2579.5L2144.8,2577.9L2146.5,2578.6L2148.2,2580L2149.8,2581.5L2152.4,2582.9L2154,2582.6" fill="none" stroke="#05ad62" stroke-width="5.8" stroke-linejoin="round" stroke-linecap="butt" shape-rendering="crispEdges"/>
<path d="M198.5,3009L200,3010L202.1,3010.7L204.2,3011.3L206.3,3011.8L208.4,3012.8L210.5,3013.9L212.6,3014.5L214.5,3015.2L216.5,3016.3L218.4,3017.6L220.4,3018.4L222.3,3019.3L224.3,3020.5L226.2,3021.4L228.2,3021.9L230.1,3022.9L232.1,3024.1L234.2,3024.8L236.2,3025.1L238.2,3025.4L240.2,3026L242.2,3026.8L244.2,3027.5L246.2,3028L248.2,3028.7L250.2,3029.5L252.2,3029.7L254.2,3030L256.2,3030.6L258.2,3031.4L260.2,3031.8L262.3,3031.9L264.3,3032.1L266.3,3032.4L268.3,3032.4L270.3,3032.5L272.3,3032.8L274.3,3032.8L276.3,3032.5L278.3,3032.2L280.3,3032.2L282.3,3032.3L284.3,3032.2L286.3,3032.1L288.3,3032.4L290.4,3032.6L292.3,3032.2L294.2,3031.7L296.1,3031.8L298.1,3031.8L300,3031.1L301.9,3030.8L303.9,3030.9L305.8,3030.8L307.7,3030.6L309.6,3030.3L311.6,3029.7L313.5,3029.2L315.4,3029.1L317.4,3029L319.5,3028.9L321.5,3028.6L323.5,3027.9L325.5,3027.4L327.5,3027.5L329.5,3027.7L331.5,3027.4L333.5,3027.2L335.5,3027L337.5,3026.7L339.5,3026.6L341.5,3026.3L343.5,3026L345.5,3026.2L347.6,3026.2L349.6,3025.8L351.6,3025.4L353.6,3025.1L355.6,3024.8L357.6,3024.3L359.6,3023.7L361.6,3023.2L363.6,3022.9L365.6,3022.6L367.6,3022.1L369.6,3021.7L371.6,3021.2L373.6,3020.6L375.6,3020.4L377.6,3020.2L379.5,3019.7L381.4,3019.3L383.4,3018.7L385.3,3018.1L387.2,3017.4L389.2,3016.8L391.1,3016.4L393,3015.9L394.9,3015.2L396.9,3014.5L398.8,3013.6L400.7,3012.5L402.7,3011.7L404.8,3011.1L406.8,3010.4L408.8,3009.6L410.8,3009.1L412.8,3008.6L414.8,3007.6L416.8,3006.6L418.8,3006.1L420.8,3005.3L422.8,3004.2L424.8,3003.3L426.8,3002.8L428.8,3002.3L430.8,3001.5L432.8,3000.8L434.9,3000.1L436.9,2999.6L438.9,2999.2L440.9,2998.7L442.9,2997.9L444.9,2997L446.9,2996.2L448.9,2995.7L450.9,2995L452.9,2994.3L454.9,2994L456.9,2993.6L458.9,2992.8L460.9,2992.3L463,2991.9L465,2991.4L467,2991.1L469,2990.7L471,2990L473,2989.7L475,2989.2L477,2988.5L479,2988.1L481,2987.5L483,2986.7L485,2986.3L487,2986.1L489,2986L491.1,2985.4L493,2984.9L494.9,2984.7L496.8,2984.2L498.8,2983.8L500.7,2983.4L502.6,2983L504.6,2982.7L506.5,2982.3L508.4,2982L510.4,2981.6L512.3,2981.2L514.2,2980.9L516.1,2980.6L518.1,2980L520.2,2979.3L522.2,2978.6L524.2,2978.1L526.2,2977.6L528.2,2976.7L530.2,2976L532.2,2975.7L534.2,2975.7L536.2,2975.5L538.1,2975.5L540,2976L541.9,2976.5L543.7,2977.1L545.9,2978.2L548,2979.4L550.1,2980.7L552.3,2982L554.1,2983.3L556,2984.7L557.9,2985.8L559.8,2986.5L561.7,2985.1L563.6,2983.4L565.4,2981.9L567.3,2980.6L569.2,2979.7L571.2,2978.5L573.1,2977.3L575,2976.4L576.9,2975.9L578.9,2975.4L580.8,2974.9L582.8,2974.6L584.7,2974.6L586.7,2974.2L588.6,2973.8L590.6,2973.5L592.5,2973.2L594.5,2973L596.4,2972.8L598.4,2972.4L600.4,2971.9L602.4,2971.6L604.5,2971.3L606.5,2970.9L608.5,2970.6L610.5,2970.2L612.5,2969.7L614.5,2968.9L616.5,2968L618.5,2967.4L620.5,2967.3L622.5,2967.2L624.5,2966.6L626.5,2966.2L628.5,2966.3L630.4,2966.1L632.3,2966L634.2,2965.8L636.2,2965.4L638.1,2965.2L640,2964.9L642,2964.7L643.9,2964.8L645.8,2964.7L647.8,2964.3L649.7,2964L651.6,2963.9L653.5,2963.9L655.5,2963.9L657.4,2963.5L659.3,2962.8L661.3,2962.5L663.2,2962.4L665.1,2962.1L667.1,2961.8L669,2961.5L670.9,2961.4L672.8,2961.4L674.8,2961.2L676.7,2960.6L678.6,2960.4L680.6,2960.8L682.5,2960.8L684.4,2960.4L686.4,2960L688.3,2960.2L690.2,2960.8L692.1,2961.1L694.1,2961L696,2960.7L697.9,2960.4L699.9,2960.2L701.8,2960.1L703.7,2960L705.7,2960.2L707.6,2960.3L709.5,2960L711.4,2959.8L713.4,2959.8L715.3,2959.9L717.2,2959.9L719.2,2959.6L721.1,2959.5L723,2959.8L724.9,2959.8L726.9,2959.5L728.8,2959.1L730.6,2959.1L732.5,2959.1L734.4,2958.6L736.3,2958L738.2,2957.7L740.1,2957.8L741.9,2957.7L743.9,2957.5L745.9,2957.3L748,2957.3L750,2957.1L752,2956.9L754,2957L756,2957L758,2957.1L760,2957L762,2956.9L764,2956.8L766,2956.8L768,2956.9L770,2956.7L772,2956.3L774,2956.4L776.1,2956.6L778.1,2956.6L780.1,2956.3L782.1,2956.3L784.1,2956.4L786.1,2956.2L788.1,2956.1L790.1,2956.1L792.1,2956L794.1,2955.7L796.1,2955.7L798.1,2955.6L800.1,2955.3L802.1,2955.1L804.1,2955.3L806.2,2955.5L808.2,2955.5L810.2,2955.6L812.2,2955.6L814.2,2955.4L816.2,2955.1L818.2,2954.9L820.2,2954.8L822.2,2954.7L824.2,2954.8L826.2,2955L828.2,2954.9L830.2,2954.6L832.2,2954.5L834.3,2954.5L836.3,2954.3L838.3,2954L840.3,2954.1L842.3,2954.1L844.3,2953.9L846.3,2953.8L848.3,2953.7L850.3,2953.3L852.3,2953L854.3,2952.8L856.3,2952.8L858.3,2953.1L860.3,2953.2L862.4,2952.8L864.4,2952.7L866.4,2952.7L868.4,2952.5L870.4,2952.6L872.4,2952.6L874.4,2952.5L876.4,2952.4L878.4,2952.3L880.4,2952.3L882.4,2952L884.4,2951.8L886.3,2952.1L888.3,2952.3L890.3,2952.2L892.2,2952.2L894.2,2952.4L896.1,2952.3L898.1,2951.9L900.1,2951.8L901.7,2949.9L903.4,2947.1L905.1,2944.2L906.8,2939.6L908.4,2934L910.1,2929L911.8,2926.7L913.5,2924.5L915.1,2922.8L917.1,2926L919.1,2930.9L921.1,2945.8L923.2,2959.3L925.2,2941.6L926.7,2934.9L928.2,2930.1L929.7,2935.5L931.2,2940.9L933.4,2942L935.5,2942.8L937.7,2943.9L939.6,2945.6L941.5,2947L943.3,2948L945.2,2949L947.2,2949.4L949.2,2949.3L951.2,2948.9L953.3,2948.8L955.3,2948.8L957.4,2948.2L959.4,2947.3L961.5,2946.8L963.6,2945.9L965.7,2944.8L967.8,2944.3L969.8,2944.2L971.8,2943.9L973.8,2944L975.8,2943.7L977.8,2943.1L979.8,2943.1L981.9,2943.5L983.9,2943.3L985.9,2942.9L987.9,2942.6L989.8,2942.5L991.8,2942.5L993.7,2942L995.7,2941.4L997.6,2941L999.6,2940.9L1001.5,2940.9L1003.5,2940.6L1005.4,2940.1L1007.4,2939.7L1009.5,2939.4L1011.5,2939.4L1013.5,2939.3L1015.5,2939.2L1017.5,2938.8L1019.5,2938.2L1021.5,2937.9L1023.5,2937.4L1025.5,2936.7L1027.3,2936.5L1029.2,2936.5L1031,2936.3L1032.9,2935.7L1034.7,2935.3L1036.5,2934.9L1038.7,2932.9L1040.9,2930.7L1043.1,2928.8L1045.1,2933.1L1047.1,2938.5L1049.2,2939.9L1051.3,2940.9L1053.5,2941.5L1055.6,2941.9L1057.4,2942.6L1059.2,2943.8L1061,2944.9L1062.8,2945.4L1064.6,2945.7L1066.7,2945.6L1068.7,2945.6L1070.7,2945.6L1072.7,2945.5L1074.7,2945.5L1076.7,2945.5L1078.7,2945.2L1080.7,2945L1082.6,2944.7L1084.6,2944.6L1086.5,2944.8L1088.4,2944.5L1090.4,2943.9L1092.3,2943.8L1094.2,2943.5L1096.1,2942.9L1098.1,2942.6L1100,2942.3L1101.9,2942L1103.9,2941.6L1105.8,2941.3L1107.7,2940.6L1109.6,2939.1L1111.4,2937.4L1113.3,2936.2L1115.2,2935.4L1117.2,2934.5L1119.1,2933.9L1121,2933.5L1122.9,2932.9L1124.9,2932.1L1126.7,2932.1L1128.5,2932.5L1130.4,2933.1L1132.2,2933.6L1134.1,2933.9L1135.9,2934.3L1137.9,2935.2L1139.9,2935.9L1141.9,2936.7L1143.9,2937.6L1145.9,2937.8L1147.8,2937.3L1149.7,2937L1151.6,2936.1L1153.5,2935.2L1155.3,2934.2L1157.1,2932.9L1159,2932.2L1160.7,2933.2L1162.5,2934.3L1164.2,2935.5L1166,2936.9L1168,2938.4L1170,2939.7L1172,2940.6L1174,2941.5L1176,2942.1L1177.7,2941.9L1179.4,2941.7L1181.1,2941.3L1182.7,2942.5L1184.4,2944.1L1186.1,2944.9L1188,2944.2L1189.8,2943.7L1191.7,2943.4L1193.6,2943.1L1195.5,2943.4L1197.4,2944.1L1199.2,2944.9L1201.1,2945.8L1203.1,2946L1205.1,2945.9L1207.1,2946.2L1209.2,2946.4L1211.2,2946.3L1213.2,2946.5L1215.2,2946.8L1217.2,2946.7L1219.2,2946.9L1221.2,2947.4L1222.9,2945.6L1224.5,2943L1226.2,2941.4L1228,2947.3L1229.7,2953.2L1231.7,2950.1L1233.7,2946.9L1235.9,2947.3L1238.1,2947.7L1240.3,2947.6L1241.8,2944.9L1243.3,2942.5L1244.8,2947.5L1246.3,2952.8L1248,2950.6L1249.6,2947.1L1251.3,2944.5L1253.3,2947.5L1255.3,2950.2L1257.3,2950.1L1259.3,2950L1261.3,2949.5L1263,2948.3L1264.7,2947.2L1266.4,2946.4L1268,2947.6L1269.7,2949.6L1271.4,2951.1L1273,2949.3L1274.7,2947.1L1276.4,2945.6L1277.9,2951.5L1279.4,2957.1L1281.7,2954L1283.9,2950.3L1285.9,2947L1287.9,2944.3L1289.7,2952.4L1291.4,2960.7L1293.1,2959.1L1294.8,2957L1296.5,2955.3L1298.1,2954.8L1299.8,2954.3L1301.5,2954L1303.5,2960.8L1305.5,2967.7L1307.2,2965.4L1309,2963L1310.8,2965.1L1312.5,2968.3L1314,2974.9L1315.5,2980.5L1317.3,2978.3L1319,2975.5L1320.8,2971L1322.5,2967.7L1324.6,2977.9L1326.6,2987.8L1328.3,2983.4L1330.1,2978.3L1332.1,2974.5L1334.1,2971.4L1335.8,2981L1337.6,2990.9L1339.6,2987.5L1341.6,2982.7L1344.1,2974.1L1345.9,2985L1347.6,2996L1349.6,2993.8L1351.7,2991.3L1353.7,2999.4L1355.7,3009.2L1357.4,3014.3L1359.2,3017.9L1361.2,3014.7L1363.2,3011.5L1364.9,3019.8L1366.7,3030.2L1368.7,3040.2L1370.7,3047.9L1372.5,3047.9L1374.2,3047.9L1376.7,3085.3L1378.5,3091.3L1380.3,3095.6L1382.4,3096.7L1384.6,3097.5L1386.8,3098.3L1388.8,3105.8L1390.8,3115.6L1392.5,3125L1394.3,3134L1396.1,3140.5L1397.8,3145.8L1399.5,3147.8L1401.2,3149.3L1402.8,3150.7L1404.8,3152.3L1406.8,3153.4L1408.5,3152.3L1410.2,3150.5L1411.9,3148.3L1413.9,3144.3L1415.9,3139.9L1417.9,3135.4L1419.9,3129.6L1421.9,3123.5L1423.4,3119.7L1424.9,3116.9L1426.9,3120.9L1428.7,3113.2L1430.4,3103L1432.4,3090.6L1434.4,3080.5L1436.9,3078L1439,3070.1L1441,3060.9L1442.7,3051.8L1444.5,3043.1L1446.2,3038.9L1448,3035.2L1450,3032.9L1452,3030.5L1453.8,3022.2L1455.5,3014.9L1457,3021.9L1458.5,3029.1L1460.3,3022.9L1462,3015.9L1464,3013.6L1466.1,3010.9L1468.6,3004.7L1470.3,3009.1L1472.1,3013.2L1474.1,3006.1L1476.1,2999.6L1477.8,3005.7L1479.6,3011.5L1480,3011.6L1482,3018.4L1484,3025.3L1485.8,3018.6L1487.5,3011.6L1489.2,3012.3L1490.9,3013.7L1492.5,3015.5L1494.6,3020.8L1496.6,3025.3L1498.3,3025.6L1500.1,3026.3L1501.6,3032.7L1503.1,3040.1L1505.3,3045.2L1507.6,3050.3L1509.4,3057.8L1511.1,3066.1L1513.1,3078.1L1515.1,3090.5L1517.1,3102.2L1519.1,3113.5L1521.1,3122.6L1523.2,3129.4L1525.2,3129.7L1527.2,3130.1L1529.2,3130.5L1530.8,3128.8L1532.5,3126.4L1534.2,3123.7L1535.9,3118.6L1537.5,3112.5L1539.2,3105.9L1541.2,3095.9L1543.2,3085.5L1545,3075.5L1546.7,3066L1548.5,3059.9L1550.2,3055.6L1552.3,3055.6L1554.3,3055.3L1556.8,3070.3L1558.8,3095.5L1561.3,3103L1562.8,3093.1L1564.3,3080.6L1566.1,3069.3L1567.8,3060.4L1569.5,3058.7L1571.2,3057.6L1572.8,3057L1574.8,3057.5L1576.8,3058.2L1579.3,3073.2L1581.9,3088.1L1584.4,3093.1L1586.1,3087.7L1587.9,3080.8L1589.6,3073.4L1591.2,3065.4L1592.9,3058.1L1594.6,3053.1L1596.2,3048.4L1597.9,3044.5L1599.6,3043.2L1601.3,3041.9L1602.9,3040.6L1604.8,3039.8L1606.7,3039.1L1608.6,3038.6L1610.5,3038.2L1612.3,3037.8L1614.2,3037.5L1616.1,3037.3L1618,3037.1L1619.7,3038.4L1621.3,3040.3L1623,3043.2L1625.5,3053.2L1627.5,3048.1L1629.5,3042.6L1631.8,3040L1634,3038L1635.7,3037.7L1637.4,3037.2L1639.1,3036.8L1641.1,3034.2L1643.1,3030.7L1645.1,3027.4L1647.1,3024.4L1649.1,3021.8L1651.1,3018.9L1653.1,3016L1655,3013.9L1656.9,3011.9L1658.8,3009.8L1660.6,3008L1662.5,3006.8L1664.4,3005.3L1666.3,3004.2L1668.2,3003.4L1670.3,3004.7L1672.5,3006.5L1674.7,3008.8L1676.7,3015.9L1678.7,3025.1L1680.2,3037.8L1681.7,3051.1L1683.7,3063.8L1685.7,3075.7L1687.7,3086.9L1689.7,3095.7L1691.2,3097.1L1692.7,3098.5L1694.2,3093.3L1695.8,3086L1697.8,3077.7L1699.8,3070.4L1701.4,3066.6L1703.1,3063.1L1704.8,3060.3L1706.5,3059.2L1708.3,3058L1710.1,3057.2L1711.8,3056.7L1714,3056.7L1716.2,3056.2L1718.3,3055.5L1720,3057.2L1721.7,3060.3L1723.4,3063.4L1725,3065.3L1726.7,3066.7L1728.4,3068.1L1730.3,3069.3L1732.1,3070.1L1734,3070.7L1735.9,3071.6L1737.7,3072.1L1739.5,3072.1L1741.3,3072L1743.1,3071.9L1744.9,3071.8L1747.2,3074.3L1749.4,3078.1L1750.9,3084.8L1752.5,3093L1754,3103.2L1755.5,3111.2L1757,3107L1758.5,3100.9L1760.2,3091.5L1762,3083.4L1764,3081.3L1766,3079.9L1768,3080.7L1770,3081.1L1771.8,3076.9L1773.5,3071.9L1775.4,3067.9L1777.3,3064.4L1779.2,3061.3L1781.1,3057.9L1782.9,3054.6L1784.8,3051.5L1786.7,3048L1788.6,3044.8L1790.5,3041.6L1792.3,3038.6L1794.2,3035.9L1796.1,3033.2L1798,3031.1L1799.9,3029.1L1801.8,3027.4L1803.6,3025.7L1805.5,3024.7L1807.4,3024L1809.3,3023.6L1811.2,3023.3L1812.8,3024.6L1814.5,3026.8L1816.2,3029.7L1817.7,3036.9L1819.2,3045.9L1821.7,3073.2L1824.2,3085.6L1825.7,3079.2L1827.2,3070.3L1828.7,3060.1L1830.2,3050.2L1832,3042.6L1833.7,3036.8L1835.4,3035.2L1837.1,3033.7L1838.8,3033.2L1840.4,3034.7L1842.1,3036.3L1843.8,3037.2L1845.9,3034.8L1848.1,3031.8L1850.3,3029.1L1852.3,3027L1854.3,3025.2L1856.3,3023.5L1858.5,3022.4L1860.7,3021.6L1862.8,3020.8L1864.8,3021.1L1866.9,3021.5L1868.9,3022L1870.9,3024.1L1872.9,3026.8L1874.9,3029.5L1876.4,3033.4L1877.9,3036.9L1879.9,3035.4L1881.9,3033.4L1883.9,3031.9L1885.8,3032L1887.7,3032.4L1889.6,3032.6L1891.4,3032.6L1893.4,3032.9L1895.5,3033.3L1897.5,3033.7L1899.5,3033.6L1901.5,3033.3L1903.5,3032.9L1905.5,3032.4L1907.5,3031.9L1909.2,3033L1910.8,3034.7L1912.5,3036.5L1914.7,3038.1L1916.9,3039.9L1919,3041.9L1920.9,3042.6L1922.8,3042.8L1924.7,3043.3L1926.6,3044.2L1928.7,3045.7L1930.9,3047.2L1933.1,3048.5L1934.8,3050.5L1936.4,3053.2L1938.1,3056.1L1940.4,3062.7L1942.6,3070.7L1944.6,3081L1946.6,3090.8L1949.1,3096.8L1950.8,3096.5L1952.5,3096L1954.2,3095.9L1955.8,3096.6L1957.5,3097.5L1959.2,3098.2L1960.8,3095.9L1962.5,3092.5L1964.2,3089.4L1965.9,3087.8L1967.5,3086L1969.2,3084.3L1970.9,3084L1972.6,3083.8L1974.2,3083.6L1975.9,3084.7L1977.6,3086L1979.2,3087L1980.9,3086.1L1982.6,3084.5L1984.3,3083.3L1986.1,3084L1988,3084.8L1989.9,3085.3L1991.8,3085.8L1993.7,3085.6L1995.6,3084.8L1997.4,3084L1999.3,3083.6L2001.3,3084.3L2003.3,3085.1L2005.3,3085.6L2007.3,3089.8L2009.4,3094.8L2011.4,3096.4L2013.4,3097.2L2015.6,3095.2L2017.9,3093.1L2019.4,3096.5L2020.9,3101.1L2023.4,3115.9L2025.9,3123.4L2027.7,3122L2029.4,3119.6L2031.2,3114.8L2032.9,3110.5L2034.9,3108.9L2036.9,3107.6L2039,3109.7L2041,3113.4L2043.5,3128.6L2045.2,3135.9L2047,3141.1L2049,3136.5L2051,3130.7L2053,3126.9L2055,3123.6L2057,3119.8L2059,3115.6L2061,3111.5L2063,3107.7L2065.2,3104.9L2067.4,3102.4L2069.6,3099.6L2071.2,3096.7L2072.9,3093.7L2074.6,3090.7L2076.6,3086.1L2078.6,3080.7L2080.4,3073.3L2082.1,3065.4L2083.9,3056.1L2085.6,3045.5L2087.1,3032.9L2088.6,3020.3L2090.4,3008.7L2092.1,2997.7L2093.9,2986.7L2095.7,2975.5L2097.2,2966.4L2098.7,2957.8L2100.4,2950.7L2102.2,2944.9L2104.2,2941.3L2106.2,2938.1L2107.9,2935.8L2109.7,2934L2112.2,2947.3L2114.7,2939.8L2116.5,2939.3L2118.2,2939.1L2119.7,2943.5L2121.2,2948.2L2123,2949.5L2124.8,2950.7L2126.8,2953.8L2128.8,2956.4L2130.5,2954.1L2132.3,2951.3L2133.8,2949.4L2135.3,2948L2137,2951.8L2138.8,2955.5L2141.1,2954L2143.3,2951.5L2145.3,2946.7L2147.3,2942.8L2149.3,2944.5L2151.3,2946.2L2154,2946.2" fill="none" stroke="#0c69e1" stroke-width="5.8" stroke-linejoin="round" stroke-linecap="butt" shape-rendering="crispEdges"/>
<path d="M198.5,3237.3L200,3237.5L201.9,3238.1L203.8,3238.9L205.7,3239.3L207.6,3239.3L209.4,3239.7L211.3,3240.6L213.2,3241.3L215.1,3241.7L217,3242.6L218.9,3243.2L220.7,3243.7L222.6,3244.6L224.5,3245.7L226.4,3246.4L228.3,3247.2L230.1,3248.2L232.1,3248.9L234.2,3249.3L236.2,3249.8L238.2,3250.5L240.2,3251.2L242.2,3251.6L244.2,3251.5L246.2,3251.8L248.2,3252.7L250.2,3253.5L252.2,3253.6L254.2,3253.6L256.2,3254.1L258.2,3254.8L260.2,3255.3L262.3,3255.5L264.3,3255.5L266.3,3255.7L268.3,3256.2L270.3,3256.6L272.3,3256.7L274.3,3256.8L276.3,3257L278.3,3256.9L280.3,3256.6L282.3,3256.7L284.3,3256.9L286.3,3256.8L288.3,3256.8L290.4,3256.9L292.4,3256.7L294.4,3256.4L296.4,3256.4L298.4,3256.1L300.4,3255.9L302.4,3256L304.4,3256.2L306.4,3256.4L308.4,3256.3L310.4,3255.8L312.4,3255.5L314.4,3255.4L316.4,3255.1L318.4,3255.1L320.5,3255.6L322.5,3255.6L324.5,3255.2L326.5,3255.1L328.5,3255.3L330.5,3255.3L332.5,3255.1L334.5,3254.6L336.5,3254.2L338.5,3254.2L340.5,3254.2L342.5,3254.1L344.5,3254.3L346.5,3254.3L348.6,3253.9L350.6,3253.5L352.6,3253.5L354.6,3253.3L356.6,3253L358.6,3252.8L360.6,3252.5L362.6,3252.4L364.6,3252.4L366.6,3251.9L368.6,3251.7L370.6,3251.7L372.6,3251.3L374.6,3250.8L376.7,3250.5L378.7,3250.2L380.7,3250.1L382.6,3249.9L384.5,3249.6L386.5,3249.2L388.4,3248.8L390.3,3248.5L392.2,3248.5L394.2,3248.1L396.1,3247.4L398,3247.3L400,3246.9L401.9,3245.9L403.8,3245.5L405.8,3245.5L407.8,3245L409.8,3244.3L411.8,3243.5L413.8,3242.7L415.8,3242.1L417.8,3241.3L419.8,3240.7L421.8,3240.3L423.8,3239.6L425.8,3239.1L427.8,3238.8L429.8,3238L431.8,3237.2L433.9,3236.6L435.9,3236.2L437.9,3236.1L439.9,3235.8L441.9,3235.3L443.9,3234.8L445.9,3234.4L447.9,3233.8L449.9,3233.4L451.9,3233.2L453.9,3232.5L455.9,3232L457.9,3232L459.9,3231.8L462,3231.4L464,3230.7L466,3230L468,3229.6L470,3229.4L472,3229.5L474,3229.1L476,3228.3L478,3227.7L480,3227.4L482,3227.5L484,3227.5L486,3227L488,3226.4L490.1,3225.9L492.1,3225.4L494.1,3225.3L496.1,3225.3L498,3225.1L499.9,3224.7L501.9,3224.1L503.8,3223.7L505.7,3223.7L507.7,3223.7L509.6,3223.5L511.5,3223.5L513.4,3223L515.4,3222.5L517.3,3222.3L519.2,3222.2L521.2,3221.7L523.2,3221.4L525.2,3221.3L527.2,3220.9L529.2,3220.5L531.2,3220.3L533.2,3219.9L535.2,3219.5L537.2,3219.3L539.4,3220.2L541.6,3221.4L543.7,3222.7L545.6,3224.2L547.5,3226.2L549.4,3228.6L551.3,3230.4L553.3,3231.5L555.3,3233.1L557.3,3234.6L559.3,3235.6L561.3,3236.3L563.2,3235.9L565.1,3235.1L566.9,3233.7L568.8,3232.3L570.7,3231.6L572.6,3230.9L574.5,3229.7L576.4,3228.5L578.2,3228.2L580.1,3228.2L582,3228L583.9,3227.3L585.8,3226.8L587.6,3226.8L589.5,3226.5L591.4,3226L593.4,3225.9L595.4,3226L597.4,3226.2L599.4,3226.3L601.4,3226.4L603.4,3226.1L605.5,3226L607.5,3226.4L609.5,3226.4L611.5,3226.3L613.5,3225.8L615.5,3225.4L617.5,3224.6L619.5,3223.4L621.5,3222.8L623.4,3222.5L625.3,3221.8L627.2,3220.9L629,3220.1L630.9,3219.2L632.8,3218.7L634.7,3218.3L636.6,3217.9L638.4,3217.6L640.3,3217.5L642.2,3216.9L644.1,3216.4L646,3216.3L647.9,3216L649.7,3215.8L651.6,3215.7L653.6,3215.7L655.6,3215.5L657.6,3215.1L659.6,3215.1L661.7,3215.3L663.7,3214.8L665.7,3214.3L667.7,3214.1L669.7,3214.3L671.7,3214.3L673.7,3213.9L675.7,3213.8L677.7,3214.2L679.7,3214.1L681.7,3213.5L683.7,3213.4L685.6,3213.8L687.6,3213.9L689.5,3213.9L691.5,3213.9L693.4,3213.8L695.4,3213.4L697.3,3212.8L699.3,3212.8L701.2,3213.3L703.2,3213.5L705.1,3213.2L707.1,3212.9L709,3212.7L711,3212.7L712.9,3213L714.9,3212.8L716.8,3212.6L718.9,3212.9L720.9,3212.8L722.9,3212.4L724.9,3212.1L726.9,3212.1L728.9,3212.1L730.9,3211.8L732.9,3211.5L734.9,3211.1L736.9,3211L738.9,3211.4L740.9,3211.4L742.9,3211L744.9,3210.8L746.9,3210.9L749,3211L751,3210.7L753,3210.5L755,3210.6L757,3210.8L759,3211L761,3211.1L763,3211L765,3211.2L767,3211L769,3210.6L771,3210.7L773,3210.6L775,3210.4L777.1,3210.6L778.9,3210.7L780.8,3210.9L782.7,3211.1L784.6,3211.2L786.5,3211.5L788.3,3211.6L790.2,3211.6L792.1,3211.8L794.1,3211.9L796.1,3212.1L798.1,3212.2L800.1,3211.8L802.1,3211.9L804.1,3211.9L806.2,3211.9L808.2,3212L810.2,3212L812.2,3211.4L814.2,3211.3L816.2,3211.8L818.2,3211.8L820.2,3211.5L822.2,3211.6L824.2,3211.7L826.2,3211.5L828.2,3211.6L830.2,3211.7L832.2,3211.6L834.3,3211.7L836.3,3211.8L838.3,3211.9L840.3,3211.8L842.3,3211.6L844.3,3211.3L846.3,3211.3L848.3,3211.6L850.3,3211.6L852.3,3211.4L854.3,3211.2L856.3,3211.1L858.3,3211.3L860.3,3211.4L862.4,3211.5L864.4,3211.7L866.4,3211.7L868.4,3211.5L870.4,3211.5L872.4,3211.3L874.4,3211L876.4,3211.1L878.4,3211.5L880.4,3211.4L882.4,3211.1L884.4,3211.2L886.3,3211.3L888.3,3211.2L890.3,3211.2L892.2,3211L894.2,3210.9L896.1,3210.8L898.1,3210.8L900.1,3211L901.7,3209.3L903.4,3206.2L905.1,3202.7L906.8,3198.3L908.4,3193.4L910.1,3189.2L911.8,3187.4L913.5,3185.5L915.1,3183.7L917.1,3187L919.1,3192.3L921.1,3206.8L923.2,3219.3L925.2,3201L926.7,3194.4L928.2,3190.1L929.7,3195L931.2,3200.4L933.4,3201.8L935.5,3202.8L937.7,3203.8L939.6,3205L941.5,3206.3L943.3,3207.2L945.2,3207.7L947.2,3207.6L949.2,3207.6L951.2,3207.6L953.3,3207.5L955.3,3207.4L957.4,3207L959.4,3206.2L961.5,3205.2L963.6,3204.2L965.7,3203.4L967.8,3202.8L969.8,3202.4L971.8,3202.3L973.8,3202.3L975.8,3202L977.8,3201.7L979.8,3201.5L981.9,3201.4L983.9,3201.5L985.9,3201.1L987.9,3200.7L989.8,3200.6L991.8,3200.6L993.7,3200.6L995.7,3200.5L997.6,3200.2L999.6,3200L1001.5,3199.6L1003.5,3199.2L1005.4,3198.9L1007.4,3198.9L1009.5,3199.1L1011.5,3199.2L1013.5,3199L1015.5,3198.4L1017.5,3197.8L1019.5,3197.8L1021.5,3197.9L1023.5,3197.8L1025.5,3197.7L1027.3,3197.7L1029.2,3197.6L1031,3197L1032.9,3196.2L1034.7,3195.7L1036.5,3195.1L1038.7,3192.8L1040.9,3189.9L1043.1,3187.8L1045.1,3192.6L1047.1,3197.7L1049.2,3198.9L1051.3,3200.1L1053.5,3201.4L1055.6,3202.4L1057.4,3203.3L1059.2,3204.5L1061,3205.5L1062.8,3206.3L1064.6,3206.9L1066.7,3206.6L1068.7,3206.5L1070.7,3206.5L1072.7,3206.2L1074.7,3205.9L1076.7,3205.5L1078.7,3205.4L1080.7,3205.4L1082.6,3205.6L1084.5,3205.5L1086.3,3205.1L1088.2,3205.2L1090.1,3205.5L1092,3205.5L1093.9,3205.3L1095.8,3205.3L1097.8,3205.1L1099.9,3204.9L1102,3204.6L1104.1,3204.5L1106.2,3204.3L1108.3,3204.4L1110.2,3203.4L1112.1,3202L1113.9,3201L1115.8,3200.1L1117.6,3199.4L1119.4,3198.8L1121.2,3198.6L1123.1,3198.7L1124.9,3198.7L1126.7,3198.6L1128.5,3198.5L1130.4,3199.1L1132.2,3199.7L1134.1,3200.2L1135.9,3200.6L1137.9,3201.4L1139.9,3202.3L1141.9,3203L1143.9,3203.7L1145.9,3204.5L1147.8,3204.2L1149.7,3204.1L1151.6,3203.6L1153.5,3202.6L1155.3,3201.5L1157.1,3200.9L1159,3200.8L1160.7,3201.6L1162.5,3202.5L1164.2,3203.7L1166,3205.1L1168,3206.6L1170,3208.1L1172,3209.5L1174,3210.7L1176,3211.3L1177.7,3211.2L1179.4,3211.1L1181.1,3210.8L1182.7,3211.7L1184.4,3213.1L1186.1,3214.2L1188,3213.8L1189.8,3213.3L1191.7,3213.3L1193.6,3213.4L1195.5,3214L1197.4,3214.9L1199.2,3216.1L1201.1,3217.1L1203.1,3217.5L1205.1,3217.6L1207.1,3217.7L1209.2,3218L1211.2,3218.6L1213.2,3218.9L1215.2,3219L1217.2,3219.1L1219.2,3219.4L1221.2,3219.8L1222.9,3218.6L1224.5,3216.7L1226.2,3215.1L1228,3219.6L1229.7,3224.5L1231.9,3224.4L1234.1,3223.6L1236.2,3222.7L1237.9,3221.4L1239.6,3219.9L1241.3,3218.7L1243.3,3223.1L1245.3,3227.7L1247.3,3226.8L1249.3,3225.3L1251.3,3224.3L1253,3225.7L1254.6,3227.7L1256.3,3229.6L1258.2,3230.1L1260.1,3230.3L1262,3230.7L1263.8,3231.2L1265.7,3232.1L1267.6,3233.1L1269.5,3234.1L1271.4,3235.3L1273,3236.9L1274.7,3238.6L1276.4,3240.2L1278.4,3244.3L1280.4,3247.6L1282.4,3247.5L1284.4,3247.5L1286.4,3247.6L1288.4,3250.4L1290.4,3254.2L1292.2,3259.7L1293.9,3265.2L1295.6,3268.3L1297.3,3270.7L1299,3272.9L1300.6,3276L1302.3,3279.5L1304,3282.9L1305.7,3288.1L1307.5,3293.4L1309.2,3295.2L1310.8,3296.5L1312.5,3298.1L1314,3304.1L1315.5,3309.8L1317.2,3307.9L1318.9,3304.7L1320.5,3302.5L1322.3,3307.1L1324.1,3311.7L1325.8,3306.4L1327.6,3300.4L1329.6,3297.7L1331.6,3295.2L1333.6,3290.7L1335.6,3286.9L1337.4,3288.9L1339.1,3290.6L1340.9,3280.1L1342.6,3270.2L1344.1,3274.9L1345.6,3279.3L1347.4,3275L1349.1,3270.7L1350.9,3272.5L1352.7,3274.5L1354.7,3272.2L1356.7,3269.8L1358.7,3273L1360.7,3276L1362.4,3269.6L1364.2,3263.1L1366,3273.1L1367.7,3283L1369.7,3281.5L1371.7,3280.2L1373.7,3286.6L1375.7,3292.9L1378,3289.7L1380.3,3286.5L1382.3,3289.3L1384.3,3292.9L1385.9,3295L1387.6,3296.5L1389.3,3297.7L1391,3299.7L1392.6,3302L1394.3,3304L1396,3305.9L1397.6,3307.9L1399.3,3309.7L1401.3,3311L1403.3,3311.8L1405.3,3312.8L1407.2,3312.4L1409,3311.2L1410.9,3309.8L1412.9,3308.3L1414.9,3306.9L1416.9,3305.6L1418.9,3303.1L1420.9,3299.8L1423.4,3283.1L1425.2,3290.1L1426.9,3297.7L1428.7,3290.7L1430.4,3281.4L1432.4,3273.5L1434.4,3267.8L1436.2,3274.5L1438,3281.4L1440,3276.3L1442,3269.3L1443.6,3264.2L1445.3,3259.8L1447,3256.8L1449,3259.1L1451,3261.4L1453.3,3252.1L1455.5,3242.9L1457,3251.4L1458.5,3259.5L1460.3,3252L1462,3245L1464,3247.4L1466.1,3249.3L1467.8,3244.9L1469.6,3240.9L1471.3,3244.4L1473.1,3247.8L1475.1,3244.9L1477.1,3241.8L1478.8,3254.5L1480.6,3267.8L1482.5,3269.4L1484.3,3267.2L1486,3264.9L1487.5,3270L1489,3275.3L1490.8,3274.1L1492.5,3273.1L1494.3,3276.6L1496.1,3281.4L1497.6,3287.2L1499.1,3293.4L1500.8,3300.3L1502.6,3305.6L1504.3,3304.3L1505.9,3302.8L1507.6,3301.9L1509.4,3304.3L1511.1,3307.8L1513.1,3315.1L1515.1,3321.4L1517,3320.3L1518.9,3319.1L1520.8,3317.6L1522.6,3315.5L1524.5,3313.1L1526.4,3310.7L1528.3,3308.7L1530.2,3306.6L1532.2,3304.8L1534.2,3303.1L1536.2,3301.4L1538.2,3299.9L1540.2,3298.2L1542.2,3296.4L1544.2,3295.1L1546.2,3293.9L1548.2,3292.3L1550.2,3290.8L1552.3,3289.3L1554.3,3287.9L1556.3,3286.9L1558.3,3285.9L1560.3,3284.6L1562.2,3283.2L1564,3281.8L1565.9,3280.5L1567.8,3278.9L1569.5,3276.4L1571.2,3274.3L1572.8,3273L1574.8,3273.4L1576.8,3273.8L1578.6,3278.5L1580.4,3284.6L1582.1,3289.8L1583.9,3293.4L1585.7,3293.5L1587.5,3293.6L1589.3,3293.5L1591.1,3293.6L1592.9,3294.1L1594.8,3294.5L1596.7,3294.7L1598.5,3295.1L1600.4,3295.6L1602.1,3296.6L1603.8,3297.9L1605.4,3299.5L1606.9,3302.9L1608.4,3305.6L1610.7,3304.2L1613,3303.3L1614.8,3304.4L1616.7,3305.8L1618.6,3307.8L1620.5,3309.7L1622.5,3311.3L1624.5,3312.6L1626.5,3314L1628.5,3315.2L1630.5,3316.5L1632.3,3318.2L1634.1,3320.3L1635.9,3322.1L1637.8,3323.3L1639.6,3323.9L1641.7,3323.7L1643.8,3323.5L1646,3323.6L1648.1,3323.5L1650,3321.7L1651.9,3319.6L1653.7,3317.5L1655.6,3315.7L1657.5,3314.4L1659.4,3312.8L1661.3,3311.5L1663.1,3310.8L1665,3310.7L1666.9,3310.5L1668.8,3310.2L1670.7,3309.9L1672.5,3310.5L1674.4,3311.6L1676.3,3312.8L1678.2,3314.5L1680.1,3316.7L1682,3318.7L1683.8,3320.7L1685.7,3323.3L1687.4,3326.7L1689.1,3329.9L1690.7,3332.8L1692.4,3335.4L1694.1,3338.1L1695.8,3339.8L1697.6,3338.8L1699.5,3337.4L1701.4,3336L1703.3,3334.6L1705.3,3334.1L1707.3,3333.6L1709.3,3332.6L1711.3,3332L1713.3,3332.1L1715.3,3332L1717.3,3331.5L1719.3,3331.5L1721.3,3331.7L1723.4,3331.7L1725,3332.6L1726.7,3333.7L1728.4,3335.5L1730.9,3348.4L1733.4,3363.2L1735.1,3369.5L1736.9,3374.3L1739.1,3372.8L1741.2,3370.3L1743.4,3368.2L1745.3,3367L1747.2,3365.5L1749.1,3363.9L1750.9,3362.9L1753,3362.7L1755,3362.9L1757,3363.2L1759,3363.2L1761,3363.4L1763,3363.3L1765,3362.8L1767,3362.6L1769,3362.6L1771,3362.2L1773,3361.8L1775,3361.6L1777,3361L1779,3360.5L1781.1,3359.9L1783.1,3358.3L1785.1,3356.6L1787.1,3355.2L1789.1,3353.8L1791.1,3352.3L1793.1,3351.4L1795.1,3350.4L1797.1,3349.5L1799.1,3349L1801.1,3348.5L1803.1,3347.7L1805.1,3346.9L1807.1,3346.4L1809.2,3346L1811.2,3345.4L1813.2,3345.3L1815.2,3345.3L1817.2,3344.9L1819.2,3344.5L1821.2,3344.2L1823.1,3344.2L1825,3344.2L1826.8,3344L1828.7,3343.2L1830.4,3341.9L1832.1,3340.7L1833.7,3339.7L1835.4,3341.7L1837.1,3344.4L1838.8,3346.6L1840.9,3348.2L1843.1,3349.5L1845.3,3350.4L1847.4,3349.9L1849.5,3349.7L1851.7,3349.6L1853.8,3349.1L1855.9,3348.7L1858,3348.6L1860.1,3348.8L1862.2,3348.6L1864.3,3348.2L1866.4,3348.1L1868.4,3348.7L1870.5,3349.4L1872.6,3349.8L1874.7,3350L1876.8,3350.3L1878.9,3350.6L1880.9,3350.6L1883,3350.8L1885.1,3351.2L1887.1,3351.5L1889.2,3351.5L1891.2,3351.2L1893.3,3351.3L1895.3,3351.6L1897.4,3351.7L1899.4,3351.5L1901.5,3351.8L1903.4,3352.7L1905.2,3353.7L1907.1,3354.9L1909,3356L1910.9,3357.2L1912.8,3358.2L1914.6,3359L1916.5,3359.8L1918.5,3360.2L1920.5,3360.4L1922.5,3360.5L1924.6,3360.6L1926.6,3360.5L1928.6,3360.9L1930.6,3361.5L1932.6,3362.3L1934.6,3363L1936.6,3363.7L1938.6,3364.5L1940.6,3365L1942.6,3365.2L1944.6,3365.7L1946.6,3366.8L1948.6,3367.7L1950.6,3368.4L1952.7,3369L1954.7,3369.2L1956.7,3369.4L1958.5,3369.5L1960.4,3369.8L1962.3,3370.1L1964.2,3370.3L1965.9,3369.9L1967.5,3369.6L1969.2,3369.3L1971.2,3368.4L1973.2,3367.8L1975,3371.5L1976.7,3375.9L1978.4,3378L1980.1,3380L1981.8,3381.9L1983.6,3383.1L1985.5,3384.1L1987.4,3384.9L1989.3,3385.6L1991.4,3385.8L1993.5,3385.9L1995.6,3385.8L1997.6,3386.1L1999.7,3386.4L2001.8,3386.4L2003.8,3386.8L2005.8,3387.5L2007.8,3388L2009.9,3388.1L2011.9,3387.9L2013.9,3388L2015.9,3388.4L2017.9,3388.4L2019.9,3388.4L2021.9,3388.8L2023.6,3390.8L2025.2,3393.4L2026.9,3395.9L2028.6,3398.5L2030.3,3401L2031.9,3403.2L2033.6,3404.7L2035.3,3405.7L2036.9,3406L2038.8,3405.7L2040.7,3405.8L2042.6,3405.7L2044.5,3405.3L2046.4,3404.5L2048.2,3403.6L2050.1,3402.6L2052,3401.9L2053.7,3400.5L2055.3,3398.5L2057,3396L2059,3391.2L2061,3386L2062.8,3379.8L2064.5,3374.4L2066.4,3373.2L2068.3,3372.2L2070.2,3371.5L2072.1,3370.7L2074.2,3368.5L2076.4,3366.3L2078.6,3364.4L2080.3,3362.1L2081.9,3359L2083.6,3355.8L2085.9,3349.7L2088.1,3343.1L2090.1,3338L2092.1,3333.1L2093.8,3329.8L2095.5,3326.8L2097.2,3324.7L2098.8,3324.3L2100.5,3323.9L2102.2,3323.3L2103.9,3323.2L2105.5,3323.4L2107.2,3323.8L2109.2,3332.3L2111.2,3340.7L2112.9,3341.1L2114.6,3341.1L2116.2,3341.3L2118,3348.2L2119.7,3356.1L2121.5,3360.1L2123.3,3363L2125.4,3364.2L2127.6,3365.6L2129.8,3366.6L2131.4,3366.6L2133.1,3366.5L2134.8,3366.6L2136.5,3368.7L2138.3,3370.5L2140,3368.9L2141.6,3366.8L2143.3,3364.9L2145,3366.1L2146.7,3368L2148.3,3369.5L2150.3,3369.8L2152.4,3369.8L2154,3369.8" fill="none" stroke="#fb3b3b" stroke-width="5.8" stroke-linejoin="round" stroke-linecap="butt" shape-rendering="crispEdges"/>
<path d="M198.5,3524.9L200,3525.6L201.9,3526.7L203.8,3527.4L205.7,3528.5L207.6,3530.1L209.4,3531.5L211.3,3532.8L213.2,3533.8L215.1,3534.4L217.1,3535.2L219.1,3536.6L221.1,3537.7L223.1,3538.6L225.1,3539.8L227.1,3540.7L229.1,3541.2L231.1,3542.1L233.2,3543.4L235.2,3544.5L237.2,3545.4L239.2,3546.2L241.2,3546.6L243.2,3547.2L245.2,3548.1L247.2,3549L249.2,3549.9L251.2,3550.5L253.2,3551.1L255.2,3551.6L257.2,3552L259.2,3552.5L261.2,3553.2L263.3,3553.5L265.3,3554.2L267.3,3554.7L269.3,3554.8L271.3,3555.1L273.3,3555.8L275.3,3556.2L277.3,3556.2L279.3,3556L281.3,3556L283.3,3556.6L285.3,3557.1L287.3,3557.1L289.3,3557.3L291.4,3557.7L293.4,3557.9L295.4,3557.8L297.3,3557.6L299.2,3557.1L301.2,3556.8L303.1,3556.9L305,3557L306.9,3556.7L308.9,3556.3L310.8,3556.1L312.7,3556L314.7,3556.1L316.6,3556L318.5,3555.5L320.5,3555.1L322.5,3555.1L324.5,3555.2L326.5,3554.9L328.5,3554.7L330.5,3554.8L332.5,3554.7L334.5,3554.6L336.5,3554.4L338.5,3553.8L340.5,3553.5L342.5,3553.5L344.5,3553.5L346.5,3553.3L348.6,3552.9L350.6,3552.4L352.6,3552.1L354.6,3551.7L356.6,3551.4L358.6,3551.4L360.6,3551.5L362.6,3551.1L364.6,3550.5L366.6,3550.3L368.6,3550L370.6,3549.6L372.6,3549.6L374.6,3549.3L376.7,3548.8L378.7,3548.3L380.7,3547.9L382.6,3547.5L384.5,3547.1L386.5,3546.9L388.4,3546.3L390.3,3545.4L392.2,3544.6L394.2,3543.9L396.1,3543.5L398,3542.9L400,3542.2L401.9,3541.5L403.8,3540.9L405.8,3540L407.8,3539.1L409.8,3538.3L411.8,3537.8L413.8,3537.6L415.8,3537L417.8,3535.8L419.8,3534.9L421.8,3534.2L423.8,3533.3L425.8,3532.4L427.8,3531.4L429.8,3530.5L431.8,3529.7L433.9,3528.6L435.9,3527.7L437.9,3527.1L439.9,3526.5L441.9,3525.6L443.9,3524.4L445.9,3523.2L447.9,3522.3L449.9,3521.6L451.9,3521.1L453.9,3520.4L455.9,3519.3L457.9,3518.1L459.9,3517.2L462,3516.3L464,3515.2L466,3514.1L468,3513.3L470,3512.4L472,3511.6L474,3511.1L476,3510.5L478,3509.4L480,3508.6L482,3508L484,3507.1L486,3505.9L488,3505.2L490.1,3504.7L492.1,3503.9L494.1,3503L496.1,3502.3L498.1,3501.3L500.1,3500.3L502.1,3499.8L504.1,3498.9L506.1,3497.7L508.1,3497L510.1,3496.4L512.1,3495.4L514.1,3494.5L516.1,3494L518,3493.6L519.9,3493.4L521.8,3492.8L523.7,3492.1L525.5,3491.8L527.4,3491.5L529.3,3491.1L531.2,3490.6L533.2,3490.9L535.2,3491.5L537.2,3491.6L539.2,3491.6L541.2,3491.9L543.1,3492.4L545,3493.1L546.9,3493.6L548.8,3494.1L550.8,3496.2L552.8,3498.6L554.8,3500.5L557,3501.6L559.1,3502.8L561.3,3503.6L563.2,3502.5L565.1,3500.7L566.9,3498.9L568.8,3497.5L570.8,3496.5L572.8,3495.8L574.8,3495L576.9,3493.9L578.9,3493L581,3492.2L583,3491.4L585.1,3491L587.2,3490.3L589.3,3489.4L591.4,3489.1L593.4,3489.2L595.3,3489.1L597.3,3489.2L599.2,3489.6L601.2,3489.6L603.1,3489.2L605.1,3488.9L607,3488.5L609,3488.4L611,3488L613,3487.2L615,3485.7L617,3484.6L619,3483.8L621.1,3482.7L623.2,3481.9L625.3,3481.5L627.4,3480.5L629.5,3479.6L631.5,3479.1L633.4,3478.8L635.3,3478L637.2,3477.4L639.1,3476.9L641,3476.3L642.8,3475.9L644.7,3475.5L646.6,3475L648.5,3474.9L650.5,3474.6L652.4,3474L654.3,3473.8L656.2,3473.7L658.2,3473.5L660.1,3473.2L662,3472.8L664,3472.5L665.9,3472.7L667.8,3472.6L669.8,3472L671.7,3471.7L673.6,3471.6L675.5,3471.2L677.5,3471L679.4,3471.3L681.3,3471.1L683.3,3470.7L685.2,3470.6L687.1,3470.2L689.1,3469.8L691,3469.5L692.9,3469.4L694.8,3469.3L696.8,3469.1L698.7,3468.8L700.6,3468.6L702.6,3468.6L704.5,3468.8L706.4,3468.7L708.4,3468.2L710.3,3468L712.2,3468.3L714.1,3468.3L716.1,3467.8L718,3467.3L719.9,3467.2L721.9,3467.6L723.7,3467.7L725.6,3467.4L727.5,3466.9L729.4,3466.2L731.3,3466L733.2,3465.9L735,3465.5L736.9,3465.1L738.9,3465L740.9,3464.7L742.9,3464.6L744.9,3464.7L746.9,3464.4L749,3463.8L751,3463.6L753,3463.3L755,3463.1L757,3463L758.9,3463.1L760.9,3463.5L762.8,3463.5L764.8,3463.2L766.7,3463.3L768.7,3463.4L770.6,3463.1L772.6,3462.8L774.5,3463L776.5,3463.2L778.4,3462.9L780.4,3463L782.4,3463.3L784.3,3463.3L786.3,3463L788.2,3462.9L790.2,3462.7L792.1,3462.8L794.1,3463.4L796.1,3463.5L798.1,3463L800.1,3462.9L802.1,3463L804.1,3462.9L806.2,3463.1L808.2,3463.3L810.2,3463L812.2,3462.9L814.2,3463.2L816.2,3463.5L818.2,3463.4L820.2,3463.2L822.2,3463.3L824.2,3463.1L826.2,3462.9L828.2,3463L830.2,3462.9L832.2,3462.8L834.2,3462.8L836.2,3462.9L838.1,3462.9L840.1,3462.7L842,3462.9L844,3463.2L845.9,3463.1L847.9,3463.2L849.8,3463.6L851.8,3463.7L853.7,3463.6L855.7,3463.4L857.6,3463.3L859.6,3463.4L861.5,3463.3L863.5,3463.3L865.4,3463.4L867.4,3463.3L869.3,3463.3L871.1,3463.5L873,3463.4L874.9,3463.2L876.8,3463.4L878.7,3463.6L880.5,3463.8L882.4,3463.8L884.4,3463.3L886.3,3463.3L888.3,3463.6L890.3,3463.6L892.2,3463.5L894.2,3463.8L896.1,3463.7L898.1,3463.5L900.1,3463.6L901.7,3461.3L903.4,3458.1L905.1,3455.3L906.8,3451.3L908.4,3446.8L910.1,3442.7L911.8,3440.5L913.5,3438.4L915.1,3437.1L917.1,3441.2L919.1,3446.7L921.1,3461.3L923.2,3474.2L925.2,3455L926.7,3449.1L928.2,3445L929.7,3449.2L931.2,3454L933.4,3455.7L935.5,3456.9L937.7,3457.9L939.6,3459.3L941.5,3460.9L943.3,3462.4L945.2,3463.4L947.2,3463.4L949.2,3463.6L951.2,3463.5L953.3,3463.3L955.3,3463.2L957.4,3463.3L959.4,3462.9L961.5,3461.7L963.6,3460.7L965.7,3460.4L967.8,3460.4L969.8,3460.7L971.8,3460.6L973.8,3460.3L975.8,3460.3L977.8,3460.3L979.8,3460.1L981.9,3460L983.9,3460L985.9,3460L987.9,3459.8L989.8,3459.4L991.8,3459.3L993.7,3459.2L995.7,3458.9L997.6,3458.6L999.6,3458.5L1001.5,3458.3L1003.5,3458.1L1005.4,3457.9L1007.4,3457.7L1009.5,3457.9L1011.5,3458.1L1013.5,3457.9L1015.5,3457.6L1017.5,3457.4L1019.5,3457.3L1021.5,3457L1023.5,3456.7L1025.5,3456.8L1027.3,3456.5L1029.2,3455.7L1031,3455.3L1032.9,3454.9L1034.7,3454.1L1036.5,3453.4L1038.7,3451.6L1040.9,3449.6L1043.1,3448.5L1045.1,3453.1L1047.1,3457.7L1049.2,3458.8L1051.3,3459.7L1053.5,3460.7L1055.6,3462.2L1057.4,3463.3L1059.2,3464.1L1061,3464.9L1062.8,3466L1064.6,3466.7L1066.7,3466.7L1068.7,3466.8L1070.7,3466.6L1072.7,3466.2L1074.7,3466.1L1076.7,3466.1L1078.7,3465.7L1080.7,3465.4L1082.6,3465.4L1084.5,3465.4L1086.3,3465.5L1088.2,3465.2L1090.1,3464.8L1092,3464.4L1093.9,3464.4L1095.8,3464.4L1097.8,3464.2L1099.9,3463.6L1102,3463.2L1104.1,3463.2L1106.2,3463L1108.3,3462.7L1110.2,3461.3L1112.1,3459.4L1113.9,3457.7L1115.8,3456.4L1117.6,3455.9L1119.4,3455.5L1121.2,3454.7L1123.1,3454L1124.9,3453.6L1126.7,3454L1128.5,3454.5L1130.4,3454.9L1132.2,3455.3L1134.1,3455.7L1135.9,3456.4L1137.9,3457.4L1139.9,3458L1141.9,3458.6L1143.9,3459.2L1145.9,3459.9L1147.8,3459.9L1149.7,3459.6L1151.6,3458.9L1153.5,3458.1L1155.3,3457.4L1157.1,3456.4L1159,3455.4L1160.7,3456.1L1162.5,3457L1164.2,3458L1166,3459.4L1168,3461L1170,3462.7L1172,3464.1L1174,3465L1176,3466L1177.7,3465.8L1179.4,3464.7L1181.1,3464L1182.7,3465.7L1184.4,3467.8L1186.1,3469.4L1188,3469.4L1189.8,3469L1191.7,3468.3L1193.6,3468L1195.5,3468.8L1197.4,3469.7L1199.2,3470.4L1201.1,3470.9L1203.1,3471.2L1205.1,3471.3L1207.1,3471.7L1209.2,3472.1L1211.2,3472.5L1213.2,3473L1215.2,3473L1217.2,3473.1L1219.2,3473.6L1221.2,3474L1222.9,3472.4L1224.5,3469.8L1226.2,3467.4L1228,3473L1229.7,3479.2L1231.9,3478.9L1234.1,3478L1236.2,3477.1L1237.9,3475.6L1239.6,3474.3L1241.3,3473.2L1243.3,3478.2L1245.3,3483.1L1247.3,3480.7L1249.3,3478L1251.3,3476.5L1253,3478.9L1254.6,3481.7L1256.3,3483.8L1258.2,3484.2L1260.1,3484.6L1262,3484.7L1263.8,3484.8L1265.7,3485.3L1267.6,3485.8L1269.5,3486.7L1271.4,3487.9L1273,3488.5L1274.7,3488.9L1276.4,3489.5L1278.4,3494L1280.4,3498.1L1282.4,3497.6L1284.4,3496.6L1286.4,3495.4L1288.4,3498L1290.4,3502.5L1292.2,3508.8L1293.9,3514.3L1295.6,3515.6L1297.3,3516.7L1299,3518L1300.6,3520.8L1302.3,3524.1L1304,3527.7L1305.7,3532L1307.5,3535.1L1309.2,3534.6L1310.8,3533.6L1312.5,3532.6L1314,3538.4L1315.5,3544.8L1317.2,3541.2L1318.9,3535.6L1320.5,3531.4L1322.3,3537.1L1324.1,3542.9L1325.8,3536.2L1327.6,3529.3L1329.6,3531.9L1331.6,3534.6L1333.6,3528.7L1335.6,3522.9L1337.4,3528.2L1339.1,3533.3L1340.9,3525.9L1342.6,3518.6L1344.6,3526.7L1346.6,3534.7L1348.6,3530.1L1350.6,3525.5L1352.4,3530L1354.2,3534.6L1355.9,3533.1L1357.7,3531.6L1359.7,3534.9L1361.7,3538.1L1363.2,3533.2L1364.7,3528.3L1366.2,3536.3L1367.7,3545.9L1369.7,3552.9L1371.7,3557.7L1373.7,3553.5L1375.7,3549.4L1377.5,3556.8L1379.2,3564.4L1381.3,3563.9L1383.3,3563.2L1385.5,3567.5L1387.8,3573.2L1389.8,3578.3L1391.8,3583.3L1393.5,3587.2L1395.1,3590.8L1396.8,3594.6L1398.5,3598.2L1400.2,3601.6L1401.8,3604.6L1403.5,3606.9L1405.2,3609.1L1406.8,3610.7L1408.5,3610.4L1410.2,3609.7L1411.9,3608.5L1413.5,3606.3L1415.2,3603.8L1416.9,3601L1418.9,3595.1L1420.9,3588.1L1423.4,3570.7L1425.2,3573.5L1426.9,3575.9L1428.7,3568.1L1430.4,3558.2L1432.4,3546.9L1434.4,3537.9L1436.2,3543L1438,3548.1L1440,3540.9L1442,3532.4L1443.6,3528L1445.3,3523.8L1447,3521L1449,3522.7L1451,3524.5L1453.3,3516.3L1455.5,3507.9L1457,3516L1458.5,3524.4L1460.3,3517.6L1462,3510.3L1464,3512.1L1466.1,3514.1L1467.8,3511L1469.6,3507.9L1471.3,3510.5L1473.1,3513.1L1475.1,3510.6L1477.1,3508L1478.8,3519.6L1480.6,3531.7L1482.5,3532.9L1484.3,3530.4L1486,3528.1L1487.5,3534.2L1489,3540.5L1490.8,3539.4L1492.5,3538.1L1494.3,3541.6L1496.1,3546.3L1497.6,3551.2L1499.1,3556.5L1500.8,3564.3L1502.6,3570.7L1504.3,3571.4L1505.9,3572.1L1507.6,3573L1509.4,3577.9L1511.1,3583.4L1513.1,3590.5L1515.1,3596.4L1516.8,3595L1518.5,3592.9L1520.1,3590.7L1521.8,3586.5L1523.5,3581.2L1525.2,3575.5L1526.8,3570.5L1528.5,3566L1530.2,3561.6L1532.1,3558.1L1533.9,3555L1535.8,3551.9L1537.7,3549.1L1539.6,3547.2L1541.5,3545.6L1543.3,3544.2L1545.2,3542.9L1547.1,3541.7L1549,3540.3L1550.9,3538.8L1552.8,3537.8L1554.9,3537.7L1557,3537.7L1559.2,3537.5L1561.3,3537.3L1563,3539.7L1564.6,3543.2L1566.3,3546.1L1568.5,3547L1570.7,3547.9L1572.8,3548.6L1574.6,3547.1L1576.3,3545.4L1578.2,3548.1L1580,3552L1581.9,3554.9L1583.9,3554L1585.9,3552.8L1587.9,3552.1L1590.1,3551.2L1592.2,3549.7L1594.4,3549L1596.3,3549.6L1598.2,3549.8L1600,3550L1601.9,3550.7L1603.9,3553.9L1605.9,3557.8L1607.9,3560.3L1610.1,3558.4L1612.3,3556.1L1614.5,3554.2L1616.6,3553.7L1618.7,3553L1620.9,3552L1623,3551.6L1624.9,3552.6L1626.8,3553.8L1628.6,3555L1630.5,3555.9L1632.5,3557.3L1634.5,3559.3L1636.5,3561.4L1638.6,3563.1L1640.6,3564.1L1642.4,3563.9L1644.3,3563.8L1646.2,3563.2L1648.1,3562.7L1650,3561.4L1651.9,3559.4L1653.7,3557.3L1655.6,3555.7L1657.5,3555.3L1659.4,3554.8L1661.3,3554.3L1663.1,3554L1665,3554.5L1666.9,3555.2L1668.8,3556.1L1670.7,3557L1672.5,3558.8L1674.4,3561L1676.3,3563.1L1678.2,3565.2L1680.1,3567.8L1682,3570.4L1683.8,3573L1685.7,3575.8L1687.6,3580.1L1689.5,3584.8L1691.4,3589.4L1693.2,3592.9L1695.3,3593L1697.3,3593L1699.3,3592.6L1701.3,3591.8L1703.3,3591.4L1705.3,3592L1707.3,3592.7L1709.3,3593.1L1711.3,3593.4L1713.3,3593.9L1715.3,3594.5L1717.3,3595.4L1719.3,3596.2L1721.3,3597.2L1723.4,3598.6L1725,3601.3L1726.7,3604.4L1728.4,3608.3L1730.1,3615.4L1731.9,3623.3L1733.4,3631.7L1734.9,3638.7L1736.4,3640.2L1737.9,3641.4L1739.7,3640L1741.6,3638L1743.4,3635.7L1745.3,3633.5L1747.2,3631.4L1749.1,3629.4L1750.9,3627.4L1752.8,3626.4L1754.7,3626.1L1756.6,3625.9L1758.5,3625.2L1760.6,3624.6L1762.7,3624.3L1764.9,3624.1L1767,3623.7L1769.2,3621.4L1771.4,3618.3L1773.5,3615.3L1775.4,3613.5L1777.3,3611.9L1779.2,3610L1781.1,3608L1783.1,3605.1L1785.1,3602L1787.1,3598.4L1789.2,3594.8L1791.4,3591.9L1793.6,3589.7L1795.6,3588.3L1797.6,3586.8L1799.6,3585.4L1801.6,3583.9L1803.6,3582.9L1805.6,3582.4L1807.6,3581.6L1809.7,3580.9L1811.7,3580.6L1813.7,3580.2L1815.7,3580.4L1817.7,3581L1819.7,3581.3L1821.7,3581.5L1823.7,3582.1L1825.4,3583.4L1827,3584.8L1828.7,3585.9L1830.4,3584.7L1832.1,3582.8L1833.7,3581.6L1835.4,3583.6L1837.1,3586.5L1838.8,3588.4L1840.6,3588.4L1842.5,3588.4L1844.4,3588.2L1846.3,3588.2L1848.2,3587.5L1850,3586.7L1851.9,3586.2L1853.8,3585.6L1855.8,3585.8L1857.8,3586.2L1859.8,3586.5L1861.8,3586.6L1863.8,3587L1865.9,3587.7L1868,3588.1L1870.1,3588.7L1872.2,3589.5L1874.3,3590.1L1876.4,3590.6L1878.5,3591.4L1880.6,3592L1882.7,3592.9L1884.7,3594.1L1886.8,3595L1888.9,3596.1L1891,3597.5L1893.1,3598.9L1895.2,3600L1897.3,3601.3L1899.4,3603L1901.5,3604.6L1903.5,3605.9L1905.5,3607.3L1907.5,3608.8L1909.5,3610.1L1911.5,3611.2L1913.6,3611.4L1915.7,3611.3L1917.8,3611.3L1919.9,3611.6L1922,3611.9L1924.1,3612.2L1926.1,3612.8L1928.2,3613.2L1930.3,3613.6L1932.4,3614.2L1934.5,3614.9L1936.6,3615.7L1938.7,3616.6L1940.8,3617.5L1942.9,3618.8L1945,3620.2L1947.1,3621.3L1949.1,3622.1L1951.2,3622.9L1953.3,3624L1955.4,3625L1957.5,3625.8L1959.6,3627L1961.7,3628.1L1963.5,3628.4L1965.3,3628.7L1967.1,3629.1L1968.9,3629.3L1970.7,3629.7L1972.4,3631.5L1974.1,3633.3L1975.7,3634.8L1977.4,3637.1L1979.1,3639.4L1980.8,3641.2L1982.5,3642L1984.3,3643L1986,3643.9L1987.8,3644.2L1989.6,3644.3L1991.4,3644.3L1993.2,3643.6L1995,3643.2L1996.8,3643.3L1998.9,3643.7L2001,3643.8L2003.1,3643.8L2005.2,3644.1L2007.3,3644.8L2009.4,3645.2L2011.4,3645.1L2013.5,3645.3L2015.6,3645.7L2017.7,3646L2019.8,3646.7L2021.9,3647.1L2023.6,3648.1L2025.2,3650L2026.9,3652.3L2028.6,3654.7L2030.3,3657.4L2031.9,3659.6L2033.8,3660L2035.7,3660.3L2037.6,3660.4L2039.5,3660.5L2041.5,3660.4L2043.5,3660.1L2045.5,3659.6L2047.5,3659.4L2049.5,3659.5L2051.4,3658.6L2053.3,3657.1L2055.1,3656L2057,3654.5L2059,3650.6L2061,3646L2062.8,3640.6L2064.5,3636L2066.4,3634.9L2068.3,3633.6L2070.2,3632.6L2072.1,3631.8L2074.2,3629.9L2076.4,3628L2078.6,3626L2080.4,3621.5L2082.1,3616.7L2084.1,3613.4L2086.1,3610.1L2087.9,3604.2L2089.6,3597.9L2091.4,3592L2093.1,3585.6L2095.2,3577.3L2097.2,3570.3L2099.2,3567.5L2101.2,3565.6L2102.8,3567.4L2104.5,3570.3L2106.2,3573.2L2107.9,3575.7L2109.5,3578.1L2111.2,3580.8L2113,3584.9L2114.7,3587.8L2117.2,3582.9L2119.2,3590L2121.2,3598L2123.5,3603.7L2125.8,3608.2L2127.9,3608.1L2130.1,3607.9L2132.3,3608.3L2134.3,3608L2136.3,3607L2138.3,3606.6L2140,3607.7L2141.6,3608.8L2143.3,3609.6L2145.3,3607.8L2147.3,3605.6L2149,3608.3L2150.7,3612.5L2152.4,3615.3L2154,3614.8" fill="none" stroke="#4d4d4d" stroke-width="5.8" stroke-linejoin="round" stroke-linecap="butt" shape-rendering="crispEdges"/>
<text transform="translate(199.3 3787.3) scale(1.000 1.040)" font-size="56" text-anchor="middle">3500</text>
<text transform="translate(514.9 3787.3) scale(1.000 1.040)" font-size="56" text-anchor="middle">3000</text>
<text transform="translate(830.5 3787.3) scale(1.000 1.040)" font-size="56" text-anchor="middle">2500</text>
<text transform="translate(1146.1 3787.3) scale(1.000 1.040)" font-size="56" text-anchor="middle">2000</text>
<text transform="translate(1461.7 3787.3) scale(1.000 1.040)" font-size="56" text-anchor="middle">1500</text>
<text transform="translate(1777.3 3787.3) scale(1.000 1.040)" font-size="56" text-anchor="middle">1000</text>
<text transform="translate(2092.9 3787.3) scale(1.000 1.040)" font-size="56" text-anchor="middle">500</text>
<text transform="translate(235 2091.4) scale(1.000 0.990)" font-size="66" text-anchor="start" font-weight="bold">b</text>
<text transform="translate(237.6 2272.5) scale(1.000 1.030)" font-size="64.0" text-anchor="start">CZ<tspan font-size="42.0" dx="-1.2" dy="17.0">25</tspan></text>
<text transform="translate(226.5 2515.8) scale(1.000 1.030)" font-size="64.0" text-anchor="start">CZ<tspan font-size="43.5" dx="-1.2" dy="17.0">20</tspan></text>
<text transform="translate(222.6 2774.6) scale(1.000 1.012)" font-size="59.5" text-anchor="start">CZ<tspan font-size="38.0" dx="-0.5" dy="16.2">15</tspan></text>
<text transform="translate(221.5 3100.8) scale(1.000 1.030)" font-size="64.0" text-anchor="start">CZ<tspan font-size="43.5" dx="-1.2" dy="17.0">10</tspan></text>
<text transform="translate(226.5 3334) scale(1.000 1.030)" font-size="64.0" text-anchor="start">CZ<tspan font-size="42.0" dx="-1.2" dy="17.0">5</tspan></text>
<text transform="translate(222.8 3619.3) scale(1.000 1.030)" font-size="64.0" text-anchor="start">CZ<tspan font-size="42.0" dx="-1.2" dy="17.0">0</tspan></text>
<text transform="translate(1212 3926) scale(1.000 0.980)" font-size="76.3" text-anchor="middle" font-weight="bold">Wavenumber (cm<tspan font-size="53" dy="-30.0">−1</tspan><tspan dy="30.0">)</tspan></text>
<text transform="translate(94.5 2838.7) rotate(-90)" font-size="76.5" text-anchor="middle" font-weight="bold">Transmittance (%)</text>
</svg>
</body>
</html>
